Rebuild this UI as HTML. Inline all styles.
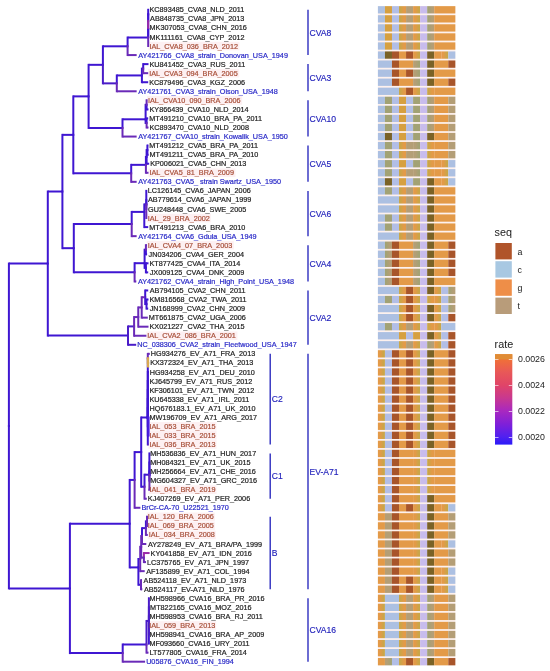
<!DOCTYPE html>
<html><head><meta charset="utf-8"><style>
html,body{margin:0;padding:0;background:#fff;}
svg{display:block;filter:blur(0.3px);}
text{font-family:"Liberation Sans",sans-serif;}
</style></head><body>
<svg width="550" height="671" viewBox="0 0 550 671">
<defs><linearGradient id="rg" x1="0" y1="1" x2="0" y2="0">
<stop offset="0" stop-color="#2a1af8"/>
<stop offset="0.086" stop-color="#5020f0"/>
<stop offset="0.229" stop-color="#8020d8"/>
<stop offset="0.371" stop-color="#a828c0"/>
<stop offset="0.514" stop-color="#c83890"/>
<stop offset="0.657" stop-color="#e04468"/>
<stop offset="0.8" stop-color="#e85858"/>
<stop offset="0.943" stop-color="#f07038"/>
<stop offset="1" stop-color="#e8862e"/>
</linearGradient><linearGradient id="gR" x1="0" y1="0" x2="1" y2="0"><stop offset="0.3" stop-color="#e39a48"/><stop offset="0.85" stop-color="#c8a648"/></linearGradient><linearGradient id="gL" x1="0" y1="0" x2="1" y2="0"><stop offset="0.15" stop-color="#c8a648"/><stop offset="0.7" stop-color="#e39a48"/></linearGradient><linearGradient id="tR" x1="0" y1="0" x2="1" y2="0"><stop offset="0.3" stop-color="#b49e76"/><stop offset="0.85" stop-color="#a2a274"/></linearGradient><linearGradient id="tL" x1="0" y1="0" x2="1" y2="0"><stop offset="0.15" stop-color="#a2a274"/><stop offset="0.7" stop-color="#b49e76"/></linearGradient></defs>
<rect width="550" height="671" fill="#fff"/>
<g><rect x="148.43" y="41.72" width="91.08" height="8.6" fill="#fdf0f2"/><rect x="148.13" y="68.88" width="91.08" height="8.6" fill="#fdf0f2"/><rect x="147.03" y="96.04" width="95.11" height="8.6" fill="#fdf0f2"/><rect x="148.43" y="168.47" width="87.05" height="8.6" fill="#fdf0f2"/><rect x="146.73" y="213.74" width="64.08" height="8.6" fill="#fdf0f2"/><rect x="146.73" y="240.90" width="87.05" height="8.6" fill="#fdf0f2"/><rect x="146.33" y="331.44" width="91.08" height="8.6" fill="#fdf0f2"/><rect x="148.43" y="421.98" width="68.11" height="8.6" fill="#fdf0f2"/><rect x="148.43" y="431.04" width="68.11" height="8.6" fill="#fdf0f2"/><rect x="148.43" y="440.09" width="68.11" height="8.6" fill="#fdf0f2"/><rect x="148.43" y="485.36" width="68.11" height="8.6" fill="#fdf0f2"/><rect x="146.73" y="512.52" width="68.11" height="8.6" fill="#fdf0f2"/><rect x="146.73" y="521.58" width="68.11" height="8.6" fill="#fdf0f2"/><rect x="147.73" y="530.63" width="68.11" height="8.6" fill="#fdf0f2"/><rect x="148.13" y="621.17" width="68.11" height="8.6" fill="#fdf0f2"/></g>
<rect x="377.9" y="6.15" width="77.44" height="659.19" fill="#fdf1ee"/>
<g><rect x="377.90" y="6.15" width="7.04" height="7.3" fill="#acc0e2"/><rect x="384.94" y="6.15" width="7.04" height="7.3" fill="#d6a040"/><rect x="391.98" y="6.15" width="7.04" height="7.3" fill="#b2bee6"/><rect x="399.02" y="6.15" width="7.04" height="7.3" fill="url(#gL)"/><rect x="406.06" y="6.15" width="7.04" height="7.3" fill="#b49e76"/><rect x="413.10" y="6.15" width="7.04" height="7.3" fill="url(#gR)"/><rect x="420.14" y="6.15" width="7.04" height="7.3" fill="#c8bcec"/><rect x="427.18" y="6.15" width="7.04" height="7.3" fill="url(#tL)"/><rect x="434.22" y="6.15" width="21.12" height="7.3" fill="#e39a48"/><rect x="377.90" y="15.20" width="7.04" height="7.3" fill="#acc0e2"/><rect x="384.94" y="15.20" width="7.04" height="7.3" fill="#d6a040"/><rect x="391.98" y="15.20" width="7.04" height="7.3" fill="#b2bee6"/><rect x="399.02" y="15.20" width="7.04" height="7.3" fill="url(#gL)"/><rect x="406.06" y="15.20" width="7.04" height="7.3" fill="#b49e76"/><rect x="413.10" y="15.20" width="7.04" height="7.3" fill="url(#gR)"/><rect x="420.14" y="15.20" width="7.04" height="7.3" fill="#c8bcec"/><rect x="427.18" y="15.20" width="7.04" height="7.3" fill="url(#tL)"/><rect x="434.22" y="15.20" width="21.12" height="7.3" fill="#e39a48"/><rect x="377.90" y="24.26" width="7.04" height="7.3" fill="#acc0e2"/><rect x="384.94" y="24.26" width="7.04" height="7.3" fill="#d6a040"/><rect x="391.98" y="24.26" width="7.04" height="7.3" fill="#b2bee6"/><rect x="399.02" y="24.26" width="7.04" height="7.3" fill="url(#gL)"/><rect x="406.06" y="24.26" width="7.04" height="7.3" fill="#b49e76"/><rect x="413.10" y="24.26" width="7.04" height="7.3" fill="url(#gR)"/><rect x="420.14" y="24.26" width="7.04" height="7.3" fill="#c8bcec"/><rect x="427.18" y="24.26" width="7.04" height="7.3" fill="url(#tL)"/><rect x="434.22" y="24.26" width="21.12" height="7.3" fill="#e39a48"/><rect x="377.90" y="33.31" width="7.04" height="7.3" fill="#acc0e2"/><rect x="384.94" y="33.31" width="7.04" height="7.3" fill="#d6a040"/><rect x="391.98" y="33.31" width="7.04" height="7.3" fill="#b2bee6"/><rect x="399.02" y="33.31" width="7.04" height="7.3" fill="url(#gL)"/><rect x="406.06" y="33.31" width="7.04" height="7.3" fill="#b49e76"/><rect x="413.10" y="33.31" width="7.04" height="7.3" fill="url(#gR)"/><rect x="420.14" y="33.31" width="7.04" height="7.3" fill="#c8bcec"/><rect x="427.18" y="33.31" width="7.04" height="7.3" fill="url(#tL)"/><rect x="434.22" y="33.31" width="21.12" height="7.3" fill="#e39a48"/><rect x="377.90" y="42.37" width="7.04" height="7.3" fill="#acc0e2"/><rect x="384.94" y="42.37" width="7.04" height="7.3" fill="#d6a040"/><rect x="391.98" y="42.37" width="7.04" height="7.3" fill="#b2bee6"/><rect x="399.02" y="42.37" width="7.04" height="7.3" fill="url(#gL)"/><rect x="406.06" y="42.37" width="7.04" height="7.3" fill="#b49e76"/><rect x="413.10" y="42.37" width="7.04" height="7.3" fill="url(#gR)"/><rect x="420.14" y="42.37" width="7.04" height="7.3" fill="#c8bcec"/><rect x="427.18" y="42.37" width="7.04" height="7.3" fill="url(#tL)"/><rect x="434.22" y="42.37" width="21.12" height="7.3" fill="#e39a48"/><rect x="377.90" y="51.42" width="7.04" height="7.3" fill="#acc0e2"/><rect x="384.94" y="51.42" width="7.04" height="7.3" fill="#7a6226"/><rect x="391.98" y="51.42" width="7.04" height="7.3" fill="#a8552a"/><rect x="399.02" y="51.42" width="7.04" height="7.3" fill="#e39a48"/><rect x="406.06" y="51.42" width="7.04" height="7.3" fill="#a8552a"/><rect x="413.10" y="51.42" width="7.04" height="7.3" fill="url(#gR)"/><rect x="420.14" y="51.42" width="7.04" height="7.3" fill="#c8bcec"/><rect x="427.18" y="51.42" width="7.04" height="7.3" fill="#7a6226"/><rect x="434.22" y="51.42" width="7.04" height="7.3" fill="#e39a48"/><rect x="441.26" y="51.42" width="7.04" height="7.3" fill="url(#gR)"/><rect x="448.30" y="51.42" width="7.04" height="7.3" fill="#acc0e2"/><rect x="377.90" y="60.47" width="14.08" height="7.3" fill="#acc0e2"/><rect x="391.98" y="60.47" width="7.04" height="7.3" fill="#a8552a"/><rect x="399.02" y="60.47" width="14.08" height="7.3" fill="#e39a48"/><rect x="413.10" y="60.47" width="7.04" height="7.3" fill="url(#tR)"/><rect x="420.14" y="60.47" width="7.04" height="7.3" fill="#c8bcec"/><rect x="427.18" y="60.47" width="7.04" height="7.3" fill="#7a6226"/><rect x="434.22" y="60.47" width="14.08" height="7.3" fill="#e39a48"/><rect x="448.30" y="60.47" width="7.04" height="7.3" fill="#a8552a"/><rect x="377.90" y="69.53" width="14.08" height="7.3" fill="#acc0e2"/><rect x="391.98" y="69.53" width="7.04" height="7.3" fill="#a8552a"/><rect x="399.02" y="69.53" width="7.04" height="7.3" fill="#e39a48"/><rect x="406.06" y="69.53" width="7.04" height="7.3" fill="#a8552a"/><rect x="413.10" y="69.53" width="7.04" height="7.3" fill="url(#tR)"/><rect x="420.14" y="69.53" width="7.04" height="7.3" fill="#c8bcec"/><rect x="427.18" y="69.53" width="7.04" height="7.3" fill="#7a6226"/><rect x="434.22" y="69.53" width="21.12" height="7.3" fill="#e39a48"/><rect x="377.90" y="78.58" width="14.08" height="7.3" fill="#acc0e2"/><rect x="391.98" y="78.58" width="7.04" height="7.3" fill="#a8552a"/><rect x="399.02" y="78.58" width="14.08" height="7.3" fill="#e39a48"/><rect x="413.10" y="78.58" width="7.04" height="7.3" fill="url(#tR)"/><rect x="420.14" y="78.58" width="7.04" height="7.3" fill="#c8bcec"/><rect x="427.18" y="78.58" width="7.04" height="7.3" fill="#7a6226"/><rect x="434.22" y="78.58" width="14.08" height="7.3" fill="#e39a48"/><rect x="448.30" y="78.58" width="7.04" height="7.3" fill="#a8552a"/><rect x="377.90" y="87.64" width="21.12" height="7.3" fill="#acc0e2"/><rect x="399.02" y="87.64" width="7.04" height="7.3" fill="url(#gL)"/><rect x="406.06" y="87.64" width="7.04" height="7.3" fill="#a8552a"/><rect x="413.10" y="87.64" width="7.04" height="7.3" fill="url(#gR)"/><rect x="420.14" y="87.64" width="7.04" height="7.3" fill="#c8bcec"/><rect x="427.18" y="87.64" width="7.04" height="7.3" fill="url(#gL)"/><rect x="434.22" y="87.64" width="21.12" height="7.3" fill="#e39a48"/><rect x="377.90" y="96.69" width="7.04" height="7.3" fill="#acc0e2"/><rect x="384.94" y="96.69" width="7.04" height="7.3" fill="#a2a274"/><rect x="391.98" y="96.69" width="7.04" height="7.3" fill="#b2bee6"/><rect x="399.02" y="96.69" width="7.04" height="7.3" fill="#d6a040"/><rect x="406.06" y="96.69" width="7.04" height="7.3" fill="#b2bee6"/><rect x="413.10" y="96.69" width="7.04" height="7.3" fill="#a2a274"/><rect x="420.14" y="96.69" width="7.04" height="7.3" fill="#c8bcec"/><rect x="427.18" y="96.69" width="7.04" height="7.3" fill="url(#tL)"/><rect x="434.22" y="96.69" width="14.08" height="7.3" fill="#e39a48"/><rect x="448.30" y="96.69" width="7.04" height="7.3" fill="#b49e76"/><rect x="377.90" y="105.74" width="7.04" height="7.3" fill="#acc0e2"/><rect x="384.94" y="105.74" width="7.04" height="7.3" fill="#a2a274"/><rect x="391.98" y="105.74" width="7.04" height="7.3" fill="#b2bee6"/><rect x="399.02" y="105.74" width="7.04" height="7.3" fill="#d6a040"/><rect x="406.06" y="105.74" width="7.04" height="7.3" fill="#b2bee6"/><rect x="413.10" y="105.74" width="7.04" height="7.3" fill="#a2a274"/><rect x="420.14" y="105.74" width="7.04" height="7.3" fill="#c8bcec"/><rect x="427.18" y="105.74" width="7.04" height="7.3" fill="url(#tL)"/><rect x="434.22" y="105.74" width="14.08" height="7.3" fill="#e39a48"/><rect x="448.30" y="105.74" width="7.04" height="7.3" fill="#b49e76"/><rect x="377.90" y="114.80" width="7.04" height="7.3" fill="#acc0e2"/><rect x="384.94" y="114.80" width="7.04" height="7.3" fill="#a2a274"/><rect x="391.98" y="114.80" width="7.04" height="7.3" fill="#b2bee6"/><rect x="399.02" y="114.80" width="7.04" height="7.3" fill="#d6a040"/><rect x="406.06" y="114.80" width="7.04" height="7.3" fill="#b2bee6"/><rect x="413.10" y="114.80" width="7.04" height="7.3" fill="#a2a274"/><rect x="420.14" y="114.80" width="7.04" height="7.3" fill="#c8bcec"/><rect x="427.18" y="114.80" width="7.04" height="7.3" fill="url(#tL)"/><rect x="434.22" y="114.80" width="14.08" height="7.3" fill="#e39a48"/><rect x="448.30" y="114.80" width="7.04" height="7.3" fill="#b49e76"/><rect x="377.90" y="123.85" width="7.04" height="7.3" fill="#acc0e2"/><rect x="384.94" y="123.85" width="7.04" height="7.3" fill="#a2a274"/><rect x="391.98" y="123.85" width="7.04" height="7.3" fill="#b2bee6"/><rect x="399.02" y="123.85" width="7.04" height="7.3" fill="#d6a040"/><rect x="406.06" y="123.85" width="7.04" height="7.3" fill="#b2bee6"/><rect x="413.10" y="123.85" width="7.04" height="7.3" fill="#a2a274"/><rect x="420.14" y="123.85" width="7.04" height="7.3" fill="#c8bcec"/><rect x="427.18" y="123.85" width="7.04" height="7.3" fill="url(#tL)"/><rect x="434.22" y="123.85" width="14.08" height="7.3" fill="#e39a48"/><rect x="448.30" y="123.85" width="7.04" height="7.3" fill="#b49e76"/><rect x="377.90" y="132.91" width="7.04" height="7.3" fill="#acc0e2"/><rect x="384.94" y="132.91" width="7.04" height="7.3" fill="#7a6226"/><rect x="391.98" y="132.91" width="7.04" height="7.3" fill="#b2bee6"/><rect x="399.02" y="132.91" width="7.04" height="7.3" fill="#d6a040"/><rect x="406.06" y="132.91" width="7.04" height="7.3" fill="#b2bee6"/><rect x="413.10" y="132.91" width="7.04" height="7.3" fill="#a2a274"/><rect x="420.14" y="132.91" width="7.04" height="7.3" fill="#c8bcec"/><rect x="427.18" y="132.91" width="7.04" height="7.3" fill="#7a6226"/><rect x="434.22" y="132.91" width="14.08" height="7.3" fill="#e39a48"/><rect x="448.30" y="132.91" width="7.04" height="7.3" fill="#b49e76"/><rect x="377.90" y="141.96" width="7.04" height="7.3" fill="#acc0e2"/><rect x="384.94" y="141.96" width="7.04" height="7.3" fill="#a2a274"/><rect x="391.98" y="141.96" width="7.04" height="7.3" fill="#b2bee6"/><rect x="399.02" y="141.96" width="7.04" height="7.3" fill="url(#gL)"/><rect x="406.06" y="141.96" width="7.04" height="7.3" fill="#b49e76"/><rect x="413.10" y="141.96" width="7.04" height="7.3" fill="url(#tR)"/><rect x="420.14" y="141.96" width="7.04" height="7.3" fill="#c8bcec"/><rect x="427.18" y="141.96" width="7.04" height="7.3" fill="url(#gL)"/><rect x="434.22" y="141.96" width="14.08" height="7.3" fill="#e39a48"/><rect x="448.30" y="141.96" width="7.04" height="7.3" fill="#b49e76"/><rect x="377.90" y="151.01" width="7.04" height="7.3" fill="#acc0e2"/><rect x="384.94" y="151.01" width="7.04" height="7.3" fill="#a2a274"/><rect x="391.98" y="151.01" width="7.04" height="7.3" fill="#b2bee6"/><rect x="399.02" y="151.01" width="7.04" height="7.3" fill="url(#gL)"/><rect x="406.06" y="151.01" width="7.04" height="7.3" fill="#b49e76"/><rect x="413.10" y="151.01" width="7.04" height="7.3" fill="url(#tR)"/><rect x="420.14" y="151.01" width="7.04" height="7.3" fill="#c8bcec"/><rect x="427.18" y="151.01" width="7.04" height="7.3" fill="url(#gL)"/><rect x="434.22" y="151.01" width="14.08" height="7.3" fill="#e39a48"/><rect x="448.30" y="151.01" width="7.04" height="7.3" fill="#b49e76"/><rect x="377.90" y="160.07" width="7.04" height="7.3" fill="#acc0e2"/><rect x="384.94" y="160.07" width="7.04" height="7.3" fill="#a2a274"/><rect x="391.98" y="160.07" width="7.04" height="7.3" fill="#b2bee6"/><rect x="399.02" y="160.07" width="7.04" height="7.3" fill="#d6a040"/><rect x="406.06" y="160.07" width="7.04" height="7.3" fill="#b2bee6"/><rect x="413.10" y="160.07" width="7.04" height="7.3" fill="#a2a274"/><rect x="420.14" y="160.07" width="7.04" height="7.3" fill="#c8bcec"/><rect x="427.18" y="160.07" width="7.04" height="7.3" fill="url(#gL)"/><rect x="434.22" y="160.07" width="7.04" height="7.3" fill="#e39a48"/><rect x="441.26" y="160.07" width="7.04" height="7.3" fill="url(#gR)"/><rect x="448.30" y="160.07" width="7.04" height="7.3" fill="#acc0e2"/><rect x="377.90" y="169.12" width="7.04" height="7.3" fill="#acc0e2"/><rect x="384.94" y="169.12" width="7.04" height="7.3" fill="#a2a274"/><rect x="391.98" y="169.12" width="7.04" height="7.3" fill="#b2bee6"/><rect x="399.02" y="169.12" width="7.04" height="7.3" fill="url(#gL)"/><rect x="406.06" y="169.12" width="7.04" height="7.3" fill="#b49e76"/><rect x="413.10" y="169.12" width="7.04" height="7.3" fill="url(#tR)"/><rect x="420.14" y="169.12" width="7.04" height="7.3" fill="#c8bcec"/><rect x="427.18" y="169.12" width="7.04" height="7.3" fill="url(#gL)"/><rect x="434.22" y="169.12" width="7.04" height="7.3" fill="#e39a48"/><rect x="441.26" y="169.12" width="7.04" height="7.3" fill="url(#gR)"/><rect x="448.30" y="169.12" width="7.04" height="7.3" fill="#acc0e2"/><rect x="377.90" y="178.18" width="7.04" height="7.3" fill="#acc0e2"/><rect x="384.94" y="178.18" width="7.04" height="7.3" fill="#7a6226"/><rect x="391.98" y="178.18" width="7.04" height="7.3" fill="#b2bee6"/><rect x="399.02" y="178.18" width="7.04" height="7.3" fill="#d6a040"/><rect x="406.06" y="178.18" width="7.04" height="7.3" fill="#b2bee6"/><rect x="413.10" y="178.18" width="7.04" height="7.3" fill="#a2a274"/><rect x="420.14" y="178.18" width="7.04" height="7.3" fill="#c8bcec"/><rect x="427.18" y="178.18" width="7.04" height="7.3" fill="#7a6226"/><rect x="434.22" y="178.18" width="7.04" height="7.3" fill="#e39a48"/><rect x="441.26" y="178.18" width="7.04" height="7.3" fill="url(#gR)"/><rect x="448.30" y="178.18" width="7.04" height="7.3" fill="#acc0e2"/><rect x="377.90" y="187.23" width="7.04" height="7.3" fill="#acc0e2"/><rect x="384.94" y="187.23" width="7.04" height="7.3" fill="#a2a274"/><rect x="391.98" y="187.23" width="7.04" height="7.3" fill="#b2bee6"/><rect x="399.02" y="187.23" width="7.04" height="7.3" fill="url(#gL)"/><rect x="406.06" y="187.23" width="7.04" height="7.3" fill="#b49e76"/><rect x="413.10" y="187.23" width="7.04" height="7.3" fill="url(#gR)"/><rect x="420.14" y="187.23" width="7.04" height="7.3" fill="#c8bcec"/><rect x="427.18" y="187.23" width="7.04" height="7.3" fill="#7a6226"/><rect x="434.22" y="187.23" width="21.12" height="7.3" fill="#e39a48"/><rect x="377.90" y="196.28" width="21.12" height="7.3" fill="#acc0e2"/><rect x="399.02" y="196.28" width="7.04" height="7.3" fill="url(#gL)"/><rect x="406.06" y="196.28" width="7.04" height="7.3" fill="#b49e76"/><rect x="413.10" y="196.28" width="7.04" height="7.3" fill="url(#gR)"/><rect x="420.14" y="196.28" width="7.04" height="7.3" fill="#c8bcec"/><rect x="427.18" y="196.28" width="7.04" height="7.3" fill="#7a6226"/><rect x="434.22" y="196.28" width="21.12" height="7.3" fill="#e39a48"/><rect x="377.90" y="205.34" width="21.12" height="7.3" fill="#acc0e2"/><rect x="399.02" y="205.34" width="7.04" height="7.3" fill="url(#gL)"/><rect x="406.06" y="205.34" width="7.04" height="7.3" fill="#b49e76"/><rect x="413.10" y="205.34" width="7.04" height="7.3" fill="url(#gR)"/><rect x="420.14" y="205.34" width="7.04" height="7.3" fill="#c8bcec"/><rect x="427.18" y="205.34" width="7.04" height="7.3" fill="#7a6226"/><rect x="434.22" y="205.34" width="21.12" height="7.3" fill="#e39a48"/><rect x="377.90" y="214.39" width="7.04" height="7.3" fill="#acc0e2"/><rect x="384.94" y="214.39" width="7.04" height="7.3" fill="#a2a274"/><rect x="391.98" y="214.39" width="7.04" height="7.3" fill="#b2bee6"/><rect x="399.02" y="214.39" width="7.04" height="7.3" fill="url(#gL)"/><rect x="406.06" y="214.39" width="7.04" height="7.3" fill="#b49e76"/><rect x="413.10" y="214.39" width="7.04" height="7.3" fill="url(#gR)"/><rect x="420.14" y="214.39" width="7.04" height="7.3" fill="#c8bcec"/><rect x="427.18" y="214.39" width="7.04" height="7.3" fill="#7a6226"/><rect x="434.22" y="214.39" width="21.12" height="7.3" fill="#e39a48"/><rect x="377.90" y="223.45" width="7.04" height="7.3" fill="#acc0e2"/><rect x="384.94" y="223.45" width="7.04" height="7.3" fill="#a2a274"/><rect x="391.98" y="223.45" width="7.04" height="7.3" fill="#b2bee6"/><rect x="399.02" y="223.45" width="7.04" height="7.3" fill="url(#gL)"/><rect x="406.06" y="223.45" width="7.04" height="7.3" fill="#b49e76"/><rect x="413.10" y="223.45" width="7.04" height="7.3" fill="url(#gR)"/><rect x="420.14" y="223.45" width="7.04" height="7.3" fill="#c8bcec"/><rect x="427.18" y="223.45" width="7.04" height="7.3" fill="#7a6226"/><rect x="434.22" y="223.45" width="21.12" height="7.3" fill="#e39a48"/><rect x="377.90" y="232.50" width="21.12" height="7.3" fill="#acc0e2"/><rect x="399.02" y="232.50" width="7.04" height="7.3" fill="url(#gL)"/><rect x="406.06" y="232.50" width="7.04" height="7.3" fill="#b49e76"/><rect x="413.10" y="232.50" width="7.04" height="7.3" fill="url(#gR)"/><rect x="420.14" y="232.50" width="7.04" height="7.3" fill="#c8bcec"/><rect x="427.18" y="232.50" width="7.04" height="7.3" fill="#7a6226"/><rect x="434.22" y="232.50" width="21.12" height="7.3" fill="#e39a48"/><rect x="377.90" y="241.55" width="7.04" height="7.3" fill="#acc0e2"/><rect x="384.94" y="241.55" width="7.04" height="7.3" fill="url(#tL)"/><rect x="391.98" y="241.55" width="7.04" height="7.3" fill="#a8552a"/><rect x="399.02" y="241.55" width="14.08" height="7.3" fill="#e39a48"/><rect x="413.10" y="241.55" width="7.04" height="7.3" fill="url(#tR)"/><rect x="420.14" y="241.55" width="7.04" height="7.3" fill="#c8bcec"/><rect x="427.18" y="241.55" width="7.04" height="7.3" fill="#7a6226"/><rect x="434.22" y="241.55" width="14.08" height="7.3" fill="#e39a48"/><rect x="448.30" y="241.55" width="7.04" height="7.3" fill="#a8552a"/><rect x="377.90" y="250.61" width="7.04" height="7.3" fill="#acc0e2"/><rect x="384.94" y="250.61" width="7.04" height="7.3" fill="url(#tL)"/><rect x="391.98" y="250.61" width="7.04" height="7.3" fill="#a8552a"/><rect x="399.02" y="250.61" width="14.08" height="7.3" fill="#e39a48"/><rect x="413.10" y="250.61" width="7.04" height="7.3" fill="url(#tR)"/><rect x="420.14" y="250.61" width="7.04" height="7.3" fill="#c8bcec"/><rect x="427.18" y="250.61" width="7.04" height="7.3" fill="#7a6226"/><rect x="434.22" y="250.61" width="14.08" height="7.3" fill="#e39a48"/><rect x="448.30" y="250.61" width="7.04" height="7.3" fill="#a8552a"/><rect x="377.90" y="259.66" width="7.04" height="7.3" fill="#acc0e2"/><rect x="384.94" y="259.66" width="7.04" height="7.3" fill="url(#tL)"/><rect x="391.98" y="259.66" width="7.04" height="7.3" fill="#a8552a"/><rect x="399.02" y="259.66" width="14.08" height="7.3" fill="#e39a48"/><rect x="413.10" y="259.66" width="7.04" height="7.3" fill="url(#tR)"/><rect x="420.14" y="259.66" width="7.04" height="7.3" fill="#c8bcec"/><rect x="427.18" y="259.66" width="7.04" height="7.3" fill="#7a6226"/><rect x="434.22" y="259.66" width="14.08" height="7.3" fill="#e39a48"/><rect x="448.30" y="259.66" width="7.04" height="7.3" fill="#a8552a"/><rect x="377.90" y="268.72" width="7.04" height="7.3" fill="#acc0e2"/><rect x="384.94" y="268.72" width="7.04" height="7.3" fill="url(#tL)"/><rect x="391.98" y="268.72" width="7.04" height="7.3" fill="#a8552a"/><rect x="399.02" y="268.72" width="14.08" height="7.3" fill="#e39a48"/><rect x="413.10" y="268.72" width="7.04" height="7.3" fill="url(#tR)"/><rect x="420.14" y="268.72" width="7.04" height="7.3" fill="#c8bcec"/><rect x="427.18" y="268.72" width="7.04" height="7.3" fill="#7a6226"/><rect x="434.22" y="268.72" width="14.08" height="7.3" fill="#e39a48"/><rect x="448.30" y="268.72" width="7.04" height="7.3" fill="#a8552a"/><rect x="377.90" y="277.77" width="7.04" height="7.3" fill="#acc0e2"/><rect x="384.94" y="277.77" width="7.04" height="7.3" fill="url(#tL)"/><rect x="391.98" y="277.77" width="7.04" height="7.3" fill="#a8552a"/><rect x="399.02" y="277.77" width="14.08" height="7.3" fill="#e39a48"/><rect x="413.10" y="277.77" width="7.04" height="7.3" fill="url(#tR)"/><rect x="420.14" y="277.77" width="7.04" height="7.3" fill="#c8bcec"/><rect x="427.18" y="277.77" width="7.04" height="7.3" fill="#7a6226"/><rect x="434.22" y="277.77" width="21.12" height="7.3" fill="#e39a48"/><rect x="377.90" y="286.82" width="21.12" height="7.3" fill="#acc0e2"/><rect x="399.02" y="286.82" width="7.04" height="7.3" fill="url(#gL)"/><rect x="406.06" y="286.82" width="7.04" height="7.3" fill="#a8552a"/><rect x="413.10" y="286.82" width="7.04" height="7.3" fill="url(#gR)"/><rect x="420.14" y="286.82" width="7.04" height="7.3" fill="#c8bcec"/><rect x="427.18" y="286.82" width="7.04" height="7.3" fill="#7a6226"/><rect x="434.22" y="286.82" width="7.04" height="7.3" fill="url(#gR)"/><rect x="441.26" y="286.82" width="7.04" height="7.3" fill="#b2bee6"/><rect x="448.30" y="286.82" width="7.04" height="7.3" fill="url(#tL)"/><rect x="377.90" y="295.88" width="7.04" height="7.3" fill="#acc0e2"/><rect x="384.94" y="295.88" width="7.04" height="7.3" fill="#a2a274"/><rect x="391.98" y="295.88" width="7.04" height="7.3" fill="#b2bee6"/><rect x="399.02" y="295.88" width="7.04" height="7.3" fill="url(#gL)"/><rect x="406.06" y="295.88" width="7.04" height="7.3" fill="#a8552a"/><rect x="413.10" y="295.88" width="7.04" height="7.3" fill="url(#gR)"/><rect x="420.14" y="295.88" width="7.04" height="7.3" fill="#c8bcec"/><rect x="427.18" y="295.88" width="7.04" height="7.3" fill="url(#gL)"/><rect x="434.22" y="295.88" width="7.04" height="7.3" fill="url(#gR)"/><rect x="441.26" y="295.88" width="7.04" height="7.3" fill="#b2bee6"/><rect x="448.30" y="295.88" width="7.04" height="7.3" fill="url(#tL)"/><rect x="377.90" y="304.93" width="21.12" height="7.3" fill="#acc0e2"/><rect x="399.02" y="304.93" width="7.04" height="7.3" fill="url(#gL)"/><rect x="406.06" y="304.93" width="7.04" height="7.3" fill="#a8552a"/><rect x="413.10" y="304.93" width="7.04" height="7.3" fill="url(#gR)"/><rect x="420.14" y="304.93" width="7.04" height="7.3" fill="#c8bcec"/><rect x="427.18" y="304.93" width="7.04" height="7.3" fill="#7a6226"/><rect x="434.22" y="304.93" width="7.04" height="7.3" fill="url(#gR)"/><rect x="441.26" y="304.93" width="7.04" height="7.3" fill="#b2bee6"/><rect x="448.30" y="304.93" width="7.04" height="7.3" fill="url(#tL)"/><rect x="377.90" y="313.99" width="21.12" height="7.3" fill="#acc0e2"/><rect x="399.02" y="313.99" width="7.04" height="7.3" fill="url(#gL)"/><rect x="406.06" y="313.99" width="7.04" height="7.3" fill="#a8552a"/><rect x="413.10" y="313.99" width="7.04" height="7.3" fill="url(#gR)"/><rect x="420.14" y="313.99" width="7.04" height="7.3" fill="#c8bcec"/><rect x="427.18" y="313.99" width="7.04" height="7.3" fill="#7a6226"/><rect x="434.22" y="313.99" width="7.04" height="7.3" fill="url(#gR)"/><rect x="441.26" y="313.99" width="7.04" height="7.3" fill="#b2bee6"/><rect x="448.30" y="313.99" width="7.04" height="7.3" fill="#a8552a"/><rect x="377.90" y="323.04" width="7.04" height="7.3" fill="#acc0e2"/><rect x="384.94" y="323.04" width="7.04" height="7.3" fill="#a2a274"/><rect x="391.98" y="323.04" width="7.04" height="7.3" fill="#b2bee6"/><rect x="399.02" y="323.04" width="7.04" height="7.3" fill="url(#gL)"/><rect x="406.06" y="323.04" width="7.04" height="7.3" fill="#b49e76"/><rect x="413.10" y="323.04" width="7.04" height="7.3" fill="url(#gR)"/><rect x="420.14" y="323.04" width="7.04" height="7.3" fill="#c8bcec"/><rect x="427.18" y="323.04" width="7.04" height="7.3" fill="url(#gL)"/><rect x="434.22" y="323.04" width="7.04" height="7.3" fill="url(#gR)"/><rect x="441.26" y="323.04" width="14.08" height="7.3" fill="#acc0e2"/><rect x="377.90" y="332.09" width="21.12" height="7.3" fill="#acc0e2"/><rect x="399.02" y="332.09" width="7.04" height="7.3" fill="#d6a040"/><rect x="406.06" y="332.09" width="7.04" height="7.3" fill="#b2bee6"/><rect x="413.10" y="332.09" width="7.04" height="7.3" fill="#d6a040"/><rect x="420.14" y="332.09" width="7.04" height="7.3" fill="#c8bcec"/><rect x="427.18" y="332.09" width="7.04" height="7.3" fill="#7a6226"/><rect x="434.22" y="332.09" width="7.04" height="7.3" fill="url(#gR)"/><rect x="441.26" y="332.09" width="7.04" height="7.3" fill="#b2bee6"/><rect x="448.30" y="332.09" width="7.04" height="7.3" fill="#a8552a"/><rect x="377.90" y="341.15" width="21.12" height="7.3" fill="#acc0e2"/><rect x="399.02" y="341.15" width="7.04" height="7.3" fill="url(#gL)"/><rect x="406.06" y="341.15" width="7.04" height="7.3" fill="#b49e76"/><rect x="413.10" y="341.15" width="7.04" height="7.3" fill="url(#gR)"/><rect x="420.14" y="341.15" width="7.04" height="7.3" fill="#c8bcec"/><rect x="427.18" y="341.15" width="7.04" height="7.3" fill="url(#tL)"/><rect x="434.22" y="341.15" width="7.04" height="7.3" fill="url(#gR)"/><rect x="441.26" y="341.15" width="7.04" height="7.3" fill="#b2bee6"/><rect x="448.30" y="341.15" width="7.04" height="7.3" fill="#a8552a"/><rect x="377.90" y="350.20" width="7.04" height="7.3" fill="url(#gR)"/><rect x="384.94" y="350.20" width="7.04" height="7.3" fill="#b2bee6"/><rect x="391.98" y="350.20" width="7.04" height="7.3" fill="#a8552a"/><rect x="399.02" y="350.20" width="7.04" height="7.3" fill="#e39a48"/><rect x="406.06" y="350.20" width="7.04" height="7.3" fill="#a8552a"/><rect x="413.10" y="350.20" width="7.04" height="7.3" fill="url(#gR)"/><rect x="420.14" y="350.20" width="7.04" height="7.3" fill="#c8bcec"/><rect x="427.18" y="350.20" width="7.04" height="7.3" fill="#7a6226"/><rect x="434.22" y="350.20" width="14.08" height="7.3" fill="#e39a48"/><rect x="448.30" y="350.20" width="7.04" height="7.3" fill="#a8552a"/><rect x="377.90" y="359.26" width="7.04" height="7.3" fill="url(#gR)"/><rect x="384.94" y="359.26" width="7.04" height="7.3" fill="#b2bee6"/><rect x="391.98" y="359.26" width="7.04" height="7.3" fill="#a8552a"/><rect x="399.02" y="359.26" width="7.04" height="7.3" fill="#e39a48"/><rect x="406.06" y="359.26" width="7.04" height="7.3" fill="#a8552a"/><rect x="413.10" y="359.26" width="7.04" height="7.3" fill="url(#gR)"/><rect x="420.14" y="359.26" width="7.04" height="7.3" fill="#c8bcec"/><rect x="427.18" y="359.26" width="7.04" height="7.3" fill="#7a6226"/><rect x="434.22" y="359.26" width="14.08" height="7.3" fill="#e39a48"/><rect x="448.30" y="359.26" width="7.04" height="7.3" fill="#a8552a"/><rect x="377.90" y="368.31" width="7.04" height="7.3" fill="url(#gR)"/><rect x="384.94" y="368.31" width="7.04" height="7.3" fill="#b2bee6"/><rect x="391.98" y="368.31" width="7.04" height="7.3" fill="#a8552a"/><rect x="399.02" y="368.31" width="7.04" height="7.3" fill="#e39a48"/><rect x="406.06" y="368.31" width="7.04" height="7.3" fill="#a8552a"/><rect x="413.10" y="368.31" width="7.04" height="7.3" fill="url(#gR)"/><rect x="420.14" y="368.31" width="7.04" height="7.3" fill="#c8bcec"/><rect x="427.18" y="368.31" width="7.04" height="7.3" fill="#7a6226"/><rect x="434.22" y="368.31" width="14.08" height="7.3" fill="#e39a48"/><rect x="448.30" y="368.31" width="7.04" height="7.3" fill="#a8552a"/><rect x="377.90" y="377.36" width="7.04" height="7.3" fill="url(#gR)"/><rect x="384.94" y="377.36" width="7.04" height="7.3" fill="#b2bee6"/><rect x="391.98" y="377.36" width="7.04" height="7.3" fill="#a8552a"/><rect x="399.02" y="377.36" width="7.04" height="7.3" fill="#e39a48"/><rect x="406.06" y="377.36" width="7.04" height="7.3" fill="#a8552a"/><rect x="413.10" y="377.36" width="7.04" height="7.3" fill="url(#gR)"/><rect x="420.14" y="377.36" width="7.04" height="7.3" fill="#c8bcec"/><rect x="427.18" y="377.36" width="7.04" height="7.3" fill="#7a6226"/><rect x="434.22" y="377.36" width="14.08" height="7.3" fill="#e39a48"/><rect x="448.30" y="377.36" width="7.04" height="7.3" fill="#a8552a"/><rect x="377.90" y="386.42" width="7.04" height="7.3" fill="url(#gR)"/><rect x="384.94" y="386.42" width="7.04" height="7.3" fill="#b2bee6"/><rect x="391.98" y="386.42" width="7.04" height="7.3" fill="#a8552a"/><rect x="399.02" y="386.42" width="7.04" height="7.3" fill="#e39a48"/><rect x="406.06" y="386.42" width="7.04" height="7.3" fill="#a8552a"/><rect x="413.10" y="386.42" width="7.04" height="7.3" fill="url(#gR)"/><rect x="420.14" y="386.42" width="7.04" height="7.3" fill="#c8bcec"/><rect x="427.18" y="386.42" width="7.04" height="7.3" fill="#7a6226"/><rect x="434.22" y="386.42" width="14.08" height="7.3" fill="#e39a48"/><rect x="448.30" y="386.42" width="7.04" height="7.3" fill="#a8552a"/><rect x="377.90" y="395.47" width="7.04" height="7.3" fill="url(#gR)"/><rect x="384.94" y="395.47" width="7.04" height="7.3" fill="#b2bee6"/><rect x="391.98" y="395.47" width="7.04" height="7.3" fill="#a8552a"/><rect x="399.02" y="395.47" width="7.04" height="7.3" fill="#e39a48"/><rect x="406.06" y="395.47" width="7.04" height="7.3" fill="#a8552a"/><rect x="413.10" y="395.47" width="7.04" height="7.3" fill="url(#gR)"/><rect x="420.14" y="395.47" width="7.04" height="7.3" fill="#c8bcec"/><rect x="427.18" y="395.47" width="7.04" height="7.3" fill="#7a6226"/><rect x="434.22" y="395.47" width="14.08" height="7.3" fill="#e39a48"/><rect x="448.30" y="395.47" width="7.04" height="7.3" fill="#a8552a"/><rect x="377.90" y="404.53" width="7.04" height="7.3" fill="url(#gR)"/><rect x="384.94" y="404.53" width="7.04" height="7.3" fill="#b2bee6"/><rect x="391.98" y="404.53" width="7.04" height="7.3" fill="#a8552a"/><rect x="399.02" y="404.53" width="7.04" height="7.3" fill="#e39a48"/><rect x="406.06" y="404.53" width="7.04" height="7.3" fill="#a8552a"/><rect x="413.10" y="404.53" width="7.04" height="7.3" fill="url(#gR)"/><rect x="420.14" y="404.53" width="7.04" height="7.3" fill="#c8bcec"/><rect x="427.18" y="404.53" width="7.04" height="7.3" fill="#7a6226"/><rect x="434.22" y="404.53" width="14.08" height="7.3" fill="#e39a48"/><rect x="448.30" y="404.53" width="7.04" height="7.3" fill="#a8552a"/><rect x="377.90" y="413.58" width="7.04" height="7.3" fill="url(#gR)"/><rect x="384.94" y="413.58" width="7.04" height="7.3" fill="#b2bee6"/><rect x="391.98" y="413.58" width="7.04" height="7.3" fill="#a8552a"/><rect x="399.02" y="413.58" width="7.04" height="7.3" fill="#e39a48"/><rect x="406.06" y="413.58" width="7.04" height="7.3" fill="#a8552a"/><rect x="413.10" y="413.58" width="7.04" height="7.3" fill="url(#gR)"/><rect x="420.14" y="413.58" width="7.04" height="7.3" fill="#c8bcec"/><rect x="427.18" y="413.58" width="7.04" height="7.3" fill="#7a6226"/><rect x="434.22" y="413.58" width="14.08" height="7.3" fill="#e39a48"/><rect x="448.30" y="413.58" width="7.04" height="7.3" fill="#a8552a"/><rect x="377.90" y="422.63" width="7.04" height="7.3" fill="url(#gR)"/><rect x="384.94" y="422.63" width="7.04" height="7.3" fill="#b2bee6"/><rect x="391.98" y="422.63" width="7.04" height="7.3" fill="#a8552a"/><rect x="399.02" y="422.63" width="7.04" height="7.3" fill="#e39a48"/><rect x="406.06" y="422.63" width="7.04" height="7.3" fill="#a8552a"/><rect x="413.10" y="422.63" width="7.04" height="7.3" fill="url(#gR)"/><rect x="420.14" y="422.63" width="7.04" height="7.3" fill="#c8bcec"/><rect x="427.18" y="422.63" width="7.04" height="7.3" fill="#7a6226"/><rect x="434.22" y="422.63" width="14.08" height="7.3" fill="#e39a48"/><rect x="448.30" y="422.63" width="7.04" height="7.3" fill="#a8552a"/><rect x="377.90" y="431.69" width="7.04" height="7.3" fill="url(#gR)"/><rect x="384.94" y="431.69" width="7.04" height="7.3" fill="#b2bee6"/><rect x="391.98" y="431.69" width="7.04" height="7.3" fill="#a8552a"/><rect x="399.02" y="431.69" width="7.04" height="7.3" fill="#e39a48"/><rect x="406.06" y="431.69" width="7.04" height="7.3" fill="#a8552a"/><rect x="413.10" y="431.69" width="7.04" height="7.3" fill="url(#gR)"/><rect x="420.14" y="431.69" width="7.04" height="7.3" fill="#c8bcec"/><rect x="427.18" y="431.69" width="7.04" height="7.3" fill="#7a6226"/><rect x="434.22" y="431.69" width="14.08" height="7.3" fill="#e39a48"/><rect x="448.30" y="431.69" width="7.04" height="7.3" fill="#a8552a"/><rect x="377.90" y="440.74" width="7.04" height="7.3" fill="url(#gR)"/><rect x="384.94" y="440.74" width="7.04" height="7.3" fill="#b2bee6"/><rect x="391.98" y="440.74" width="7.04" height="7.3" fill="#a8552a"/><rect x="399.02" y="440.74" width="7.04" height="7.3" fill="#e39a48"/><rect x="406.06" y="440.74" width="7.04" height="7.3" fill="#a8552a"/><rect x="413.10" y="440.74" width="7.04" height="7.3" fill="url(#gR)"/><rect x="420.14" y="440.74" width="7.04" height="7.3" fill="#c8bcec"/><rect x="427.18" y="440.74" width="7.04" height="7.3" fill="#7a6226"/><rect x="434.22" y="440.74" width="14.08" height="7.3" fill="#e39a48"/><rect x="448.30" y="440.74" width="7.04" height="7.3" fill="#a8552a"/><rect x="377.90" y="449.80" width="7.04" height="7.3" fill="url(#gR)"/><rect x="384.94" y="449.80" width="7.04" height="7.3" fill="#b2bee6"/><rect x="391.98" y="449.80" width="7.04" height="7.3" fill="#a8552a"/><rect x="399.02" y="449.80" width="14.08" height="7.3" fill="#e39a48"/><rect x="413.10" y="449.80" width="7.04" height="7.3" fill="url(#gR)"/><rect x="420.14" y="449.80" width="7.04" height="7.3" fill="#c8bcec"/><rect x="427.18" y="449.80" width="7.04" height="7.3" fill="url(#gL)"/><rect x="434.22" y="449.80" width="21.12" height="7.3" fill="#e39a48"/><rect x="377.90" y="458.85" width="7.04" height="7.3" fill="url(#gR)"/><rect x="384.94" y="458.85" width="7.04" height="7.3" fill="#b2bee6"/><rect x="391.98" y="458.85" width="7.04" height="7.3" fill="#a8552a"/><rect x="399.02" y="458.85" width="14.08" height="7.3" fill="#e39a48"/><rect x="413.10" y="458.85" width="7.04" height="7.3" fill="url(#gR)"/><rect x="420.14" y="458.85" width="7.04" height="7.3" fill="#c8bcec"/><rect x="427.18" y="458.85" width="7.04" height="7.3" fill="url(#gL)"/><rect x="434.22" y="458.85" width="21.12" height="7.3" fill="#e39a48"/><rect x="377.90" y="467.90" width="7.04" height="7.3" fill="url(#gR)"/><rect x="384.94" y="467.90" width="7.04" height="7.3" fill="#b2bee6"/><rect x="391.98" y="467.90" width="7.04" height="7.3" fill="#a8552a"/><rect x="399.02" y="467.90" width="14.08" height="7.3" fill="#e39a48"/><rect x="413.10" y="467.90" width="7.04" height="7.3" fill="url(#gR)"/><rect x="420.14" y="467.90" width="7.04" height="7.3" fill="#c8bcec"/><rect x="427.18" y="467.90" width="7.04" height="7.3" fill="url(#gL)"/><rect x="434.22" y="467.90" width="21.12" height="7.3" fill="#e39a48"/><rect x="377.90" y="476.96" width="7.04" height="7.3" fill="url(#gR)"/><rect x="384.94" y="476.96" width="7.04" height="7.3" fill="#b2bee6"/><rect x="391.98" y="476.96" width="7.04" height="7.3" fill="#a8552a"/><rect x="399.02" y="476.96" width="14.08" height="7.3" fill="#e39a48"/><rect x="413.10" y="476.96" width="7.04" height="7.3" fill="url(#gR)"/><rect x="420.14" y="476.96" width="7.04" height="7.3" fill="#c8bcec"/><rect x="427.18" y="476.96" width="7.04" height="7.3" fill="url(#gL)"/><rect x="434.22" y="476.96" width="21.12" height="7.3" fill="#e39a48"/><rect x="377.90" y="486.01" width="7.04" height="7.3" fill="url(#gR)"/><rect x="384.94" y="486.01" width="7.04" height="7.3" fill="#b2bee6"/><rect x="391.98" y="486.01" width="7.04" height="7.3" fill="#a8552a"/><rect x="399.02" y="486.01" width="14.08" height="7.3" fill="#e39a48"/><rect x="413.10" y="486.01" width="7.04" height="7.3" fill="url(#gR)"/><rect x="420.14" y="486.01" width="7.04" height="7.3" fill="#c8bcec"/><rect x="427.18" y="486.01" width="7.04" height="7.3" fill="url(#gL)"/><rect x="434.22" y="486.01" width="21.12" height="7.3" fill="#e39a48"/><rect x="377.90" y="495.07" width="7.04" height="7.3" fill="url(#gR)"/><rect x="384.94" y="495.07" width="7.04" height="7.3" fill="#b2bee6"/><rect x="391.98" y="495.07" width="7.04" height="7.3" fill="#a8552a"/><rect x="399.02" y="495.07" width="14.08" height="7.3" fill="#e39a48"/><rect x="413.10" y="495.07" width="7.04" height="7.3" fill="url(#gR)"/><rect x="420.14" y="495.07" width="7.04" height="7.3" fill="#c8bcec"/><rect x="427.18" y="495.07" width="7.04" height="7.3" fill="#7a6226"/><rect x="434.22" y="495.07" width="21.12" height="7.3" fill="#e39a48"/><rect x="377.90" y="504.12" width="7.04" height="7.3" fill="url(#gR)"/><rect x="384.94" y="504.12" width="7.04" height="7.3" fill="#b2bee6"/><rect x="391.98" y="504.12" width="7.04" height="7.3" fill="#a8552a"/><rect x="399.02" y="504.12" width="7.04" height="7.3" fill="#e39a48"/><rect x="406.06" y="504.12" width="7.04" height="7.3" fill="#a8552a"/><rect x="413.10" y="504.12" width="7.04" height="7.3" fill="url(#gR)"/><rect x="420.14" y="504.12" width="7.04" height="7.3" fill="#c8bcec"/><rect x="427.18" y="504.12" width="7.04" height="7.3" fill="#7a6226"/><rect x="434.22" y="504.12" width="7.04" height="7.3" fill="#e39a48"/><rect x="441.26" y="504.12" width="7.04" height="7.3" fill="url(#gR)"/><rect x="448.30" y="504.12" width="7.04" height="7.3" fill="#acc0e2"/><rect x="377.90" y="513.17" width="7.04" height="7.3" fill="#e39a48"/><rect x="384.94" y="513.17" width="7.04" height="7.3" fill="#b49e76"/><rect x="391.98" y="513.17" width="7.04" height="7.3" fill="#a8552a"/><rect x="399.02" y="513.17" width="14.08" height="7.3" fill="#e39a48"/><rect x="413.10" y="513.17" width="7.04" height="7.3" fill="url(#gR)"/><rect x="420.14" y="513.17" width="7.04" height="7.3" fill="#c8bcec"/><rect x="427.18" y="513.17" width="7.04" height="7.3" fill="#7a6226"/><rect x="434.22" y="513.17" width="14.08" height="7.3" fill="#e39a48"/><rect x="448.30" y="513.17" width="7.04" height="7.3" fill="#b49e76"/><rect x="377.90" y="522.23" width="7.04" height="7.3" fill="#e39a48"/><rect x="384.94" y="522.23" width="7.04" height="7.3" fill="#b49e76"/><rect x="391.98" y="522.23" width="7.04" height="7.3" fill="#a8552a"/><rect x="399.02" y="522.23" width="14.08" height="7.3" fill="#e39a48"/><rect x="413.10" y="522.23" width="7.04" height="7.3" fill="url(#gR)"/><rect x="420.14" y="522.23" width="7.04" height="7.3" fill="#c8bcec"/><rect x="427.18" y="522.23" width="7.04" height="7.3" fill="#7a6226"/><rect x="434.22" y="522.23" width="14.08" height="7.3" fill="#e39a48"/><rect x="448.30" y="522.23" width="7.04" height="7.3" fill="#b49e76"/><rect x="377.90" y="531.28" width="7.04" height="7.3" fill="#e39a48"/><rect x="384.94" y="531.28" width="7.04" height="7.3" fill="#b49e76"/><rect x="391.98" y="531.28" width="7.04" height="7.3" fill="#a8552a"/><rect x="399.02" y="531.28" width="14.08" height="7.3" fill="#e39a48"/><rect x="413.10" y="531.28" width="7.04" height="7.3" fill="url(#gR)"/><rect x="420.14" y="531.28" width="7.04" height="7.3" fill="#c8bcec"/><rect x="427.18" y="531.28" width="7.04" height="7.3" fill="#7a6226"/><rect x="434.22" y="531.28" width="14.08" height="7.3" fill="#e39a48"/><rect x="448.30" y="531.28" width="7.04" height="7.3" fill="#b49e76"/><rect x="377.90" y="540.34" width="7.04" height="7.3" fill="#e39a48"/><rect x="384.94" y="540.34" width="7.04" height="7.3" fill="#b49e76"/><rect x="391.98" y="540.34" width="7.04" height="7.3" fill="#a8552a"/><rect x="399.02" y="540.34" width="14.08" height="7.3" fill="#e39a48"/><rect x="413.10" y="540.34" width="7.04" height="7.3" fill="url(#gR)"/><rect x="420.14" y="540.34" width="7.04" height="7.3" fill="#c8bcec"/><rect x="427.18" y="540.34" width="7.04" height="7.3" fill="#7a6226"/><rect x="434.22" y="540.34" width="7.04" height="7.3" fill="#e39a48"/><rect x="441.26" y="540.34" width="7.04" height="7.3" fill="url(#gR)"/><rect x="448.30" y="540.34" width="7.04" height="7.3" fill="#acc0e2"/><rect x="377.90" y="549.39" width="7.04" height="7.3" fill="#e39a48"/><rect x="384.94" y="549.39" width="7.04" height="7.3" fill="#b49e76"/><rect x="391.98" y="549.39" width="7.04" height="7.3" fill="#a8552a"/><rect x="399.02" y="549.39" width="14.08" height="7.3" fill="#e39a48"/><rect x="413.10" y="549.39" width="7.04" height="7.3" fill="url(#gR)"/><rect x="420.14" y="549.39" width="7.04" height="7.3" fill="#c8bcec"/><rect x="427.18" y="549.39" width="7.04" height="7.3" fill="#7a6226"/><rect x="434.22" y="549.39" width="14.08" height="7.3" fill="#e39a48"/><rect x="448.30" y="549.39" width="7.04" height="7.3" fill="#b49e76"/><rect x="377.90" y="558.44" width="7.04" height="7.3" fill="#e39a48"/><rect x="384.94" y="558.44" width="7.04" height="7.3" fill="#b49e76"/><rect x="391.98" y="558.44" width="7.04" height="7.3" fill="#a8552a"/><rect x="399.02" y="558.44" width="14.08" height="7.3" fill="#e39a48"/><rect x="413.10" y="558.44" width="7.04" height="7.3" fill="url(#gR)"/><rect x="420.14" y="558.44" width="7.04" height="7.3" fill="#c8bcec"/><rect x="427.18" y="558.44" width="7.04" height="7.3" fill="#7a6226"/><rect x="434.22" y="558.44" width="14.08" height="7.3" fill="#e39a48"/><rect x="448.30" y="558.44" width="7.04" height="7.3" fill="#b49e76"/><rect x="377.90" y="567.50" width="7.04" height="7.3" fill="#e39a48"/><rect x="384.94" y="567.50" width="7.04" height="7.3" fill="#b49e76"/><rect x="391.98" y="567.50" width="7.04" height="7.3" fill="#a8552a"/><rect x="399.02" y="567.50" width="14.08" height="7.3" fill="#e39a48"/><rect x="413.10" y="567.50" width="7.04" height="7.3" fill="url(#gR)"/><rect x="420.14" y="567.50" width="7.04" height="7.3" fill="#c8bcec"/><rect x="427.18" y="567.50" width="7.04" height="7.3" fill="#7a6226"/><rect x="434.22" y="567.50" width="7.04" height="7.3" fill="#e39a48"/><rect x="441.26" y="567.50" width="7.04" height="7.3" fill="url(#gR)"/><rect x="448.30" y="567.50" width="7.04" height="7.3" fill="#acc0e2"/><rect x="377.90" y="576.55" width="7.04" height="7.3" fill="#e39a48"/><rect x="384.94" y="576.55" width="7.04" height="7.3" fill="#b49e76"/><rect x="391.98" y="576.55" width="7.04" height="7.3" fill="#a8552a"/><rect x="399.02" y="576.55" width="7.04" height="7.3" fill="#e39a48"/><rect x="406.06" y="576.55" width="7.04" height="7.3" fill="#a8552a"/><rect x="413.10" y="576.55" width="7.04" height="7.3" fill="url(#gR)"/><rect x="420.14" y="576.55" width="7.04" height="7.3" fill="#c8bcec"/><rect x="427.18" y="576.55" width="7.04" height="7.3" fill="#7a6226"/><rect x="434.22" y="576.55" width="7.04" height="7.3" fill="#e39a48"/><rect x="441.26" y="576.55" width="7.04" height="7.3" fill="url(#gR)"/><rect x="448.30" y="576.55" width="7.04" height="7.3" fill="#acc0e2"/><rect x="377.90" y="585.61" width="7.04" height="7.3" fill="#e39a48"/><rect x="384.94" y="585.61" width="7.04" height="7.3" fill="#b49e76"/><rect x="391.98" y="585.61" width="7.04" height="7.3" fill="#a8552a"/><rect x="399.02" y="585.61" width="7.04" height="7.3" fill="#e39a48"/><rect x="406.06" y="585.61" width="7.04" height="7.3" fill="#a8552a"/><rect x="413.10" y="585.61" width="7.04" height="7.3" fill="url(#gR)"/><rect x="420.14" y="585.61" width="7.04" height="7.3" fill="#c8bcec"/><rect x="427.18" y="585.61" width="7.04" height="7.3" fill="#7a6226"/><rect x="434.22" y="585.61" width="7.04" height="7.3" fill="#e39a48"/><rect x="441.26" y="585.61" width="7.04" height="7.3" fill="url(#gR)"/><rect x="448.30" y="585.61" width="7.04" height="7.3" fill="#acc0e2"/><rect x="377.90" y="594.66" width="7.04" height="7.3" fill="url(#gR)"/><rect x="384.94" y="594.66" width="14.08" height="7.3" fill="#acc0e2"/><rect x="399.02" y="594.66" width="7.04" height="7.3" fill="url(#gL)"/><rect x="406.06" y="594.66" width="7.04" height="7.3" fill="#b49e76"/><rect x="413.10" y="594.66" width="7.04" height="7.3" fill="url(#gR)"/><rect x="420.14" y="594.66" width="7.04" height="7.3" fill="#c8bcec"/><rect x="427.18" y="594.66" width="7.04" height="7.3" fill="url(#tL)"/><rect x="434.22" y="594.66" width="14.08" height="7.3" fill="#e39a48"/><rect x="448.30" y="594.66" width="7.04" height="7.3" fill="#b49e76"/><rect x="377.90" y="603.71" width="7.04" height="7.3" fill="url(#gR)"/><rect x="384.94" y="603.71" width="14.08" height="7.3" fill="#acc0e2"/><rect x="399.02" y="603.71" width="7.04" height="7.3" fill="url(#gL)"/><rect x="406.06" y="603.71" width="7.04" height="7.3" fill="#b49e76"/><rect x="413.10" y="603.71" width="7.04" height="7.3" fill="url(#gR)"/><rect x="420.14" y="603.71" width="7.04" height="7.3" fill="#c8bcec"/><rect x="427.18" y="603.71" width="7.04" height="7.3" fill="url(#tL)"/><rect x="434.22" y="603.71" width="14.08" height="7.3" fill="#e39a48"/><rect x="448.30" y="603.71" width="7.04" height="7.3" fill="#b49e76"/><rect x="377.90" y="612.77" width="7.04" height="7.3" fill="url(#gR)"/><rect x="384.94" y="612.77" width="14.08" height="7.3" fill="#acc0e2"/><rect x="399.02" y="612.77" width="7.04" height="7.3" fill="url(#gL)"/><rect x="406.06" y="612.77" width="7.04" height="7.3" fill="#b49e76"/><rect x="413.10" y="612.77" width="7.04" height="7.3" fill="url(#gR)"/><rect x="420.14" y="612.77" width="7.04" height="7.3" fill="#c8bcec"/><rect x="427.18" y="612.77" width="7.04" height="7.3" fill="url(#tL)"/><rect x="434.22" y="612.77" width="14.08" height="7.3" fill="#e39a48"/><rect x="448.30" y="612.77" width="7.04" height="7.3" fill="#b49e76"/><rect x="377.90" y="621.82" width="7.04" height="7.3" fill="url(#gR)"/><rect x="384.94" y="621.82" width="14.08" height="7.3" fill="#acc0e2"/><rect x="399.02" y="621.82" width="7.04" height="7.3" fill="url(#gL)"/><rect x="406.06" y="621.82" width="7.04" height="7.3" fill="#b49e76"/><rect x="413.10" y="621.82" width="7.04" height="7.3" fill="url(#gR)"/><rect x="420.14" y="621.82" width="7.04" height="7.3" fill="#c8bcec"/><rect x="427.18" y="621.82" width="7.04" height="7.3" fill="url(#tL)"/><rect x="434.22" y="621.82" width="14.08" height="7.3" fill="#e39a48"/><rect x="448.30" y="621.82" width="7.04" height="7.3" fill="#b49e76"/><rect x="377.90" y="630.88" width="7.04" height="7.3" fill="url(#gR)"/><rect x="384.94" y="630.88" width="14.08" height="7.3" fill="#acc0e2"/><rect x="399.02" y="630.88" width="7.04" height="7.3" fill="url(#gL)"/><rect x="406.06" y="630.88" width="7.04" height="7.3" fill="#b49e76"/><rect x="413.10" y="630.88" width="7.04" height="7.3" fill="url(#gR)"/><rect x="420.14" y="630.88" width="7.04" height="7.3" fill="#c8bcec"/><rect x="427.18" y="630.88" width="7.04" height="7.3" fill="url(#tL)"/><rect x="434.22" y="630.88" width="14.08" height="7.3" fill="#e39a48"/><rect x="448.30" y="630.88" width="7.04" height="7.3" fill="#b49e76"/><rect x="377.90" y="639.93" width="7.04" height="7.3" fill="url(#gR)"/><rect x="384.94" y="639.93" width="14.08" height="7.3" fill="#acc0e2"/><rect x="399.02" y="639.93" width="7.04" height="7.3" fill="url(#gL)"/><rect x="406.06" y="639.93" width="7.04" height="7.3" fill="#b49e76"/><rect x="413.10" y="639.93" width="7.04" height="7.3" fill="url(#gR)"/><rect x="420.14" y="639.93" width="7.04" height="7.3" fill="#c8bcec"/><rect x="427.18" y="639.93" width="7.04" height="7.3" fill="url(#tL)"/><rect x="434.22" y="639.93" width="14.08" height="7.3" fill="#e39a48"/><rect x="448.30" y="639.93" width="7.04" height="7.3" fill="#b49e76"/><rect x="377.90" y="648.98" width="7.04" height="7.3" fill="url(#gR)"/><rect x="384.94" y="648.98" width="14.08" height="7.3" fill="#acc0e2"/><rect x="399.02" y="648.98" width="7.04" height="7.3" fill="url(#gL)"/><rect x="406.06" y="648.98" width="7.04" height="7.3" fill="#b49e76"/><rect x="413.10" y="648.98" width="7.04" height="7.3" fill="url(#gR)"/><rect x="420.14" y="648.98" width="7.04" height="7.3" fill="#c8bcec"/><rect x="427.18" y="648.98" width="7.04" height="7.3" fill="url(#tL)"/><rect x="434.22" y="648.98" width="14.08" height="7.3" fill="#e39a48"/><rect x="448.30" y="648.98" width="7.04" height="7.3" fill="#b49e76"/><rect x="377.90" y="658.04" width="7.04" height="7.3" fill="#e39a48"/><rect x="384.94" y="658.04" width="7.04" height="7.3" fill="url(#tR)"/><rect x="391.98" y="658.04" width="7.04" height="7.3" fill="#b2bee6"/><rect x="399.02" y="658.04" width="7.04" height="7.3" fill="url(#gL)"/><rect x="406.06" y="658.04" width="7.04" height="7.3" fill="#a8552a"/><rect x="413.10" y="658.04" width="7.04" height="7.3" fill="url(#gR)"/><rect x="420.14" y="658.04" width="7.04" height="7.3" fill="#c8bcec"/><rect x="427.18" y="658.04" width="7.04" height="7.3" fill="#7a6226"/><rect x="434.22" y="658.04" width="14.08" height="7.3" fill="#e39a48"/><rect x="448.30" y="658.04" width="7.04" height="7.3" fill="#a8552a"/></g>
<g><line x1="8.90" y1="262.56" x2="8.90" y2="426.97" stroke="#3f16d2" stroke-width="2.0" stroke-linecap="butt"/><line x1="8.90" y1="263.56" x2="47.80" y2="263.56" stroke="#3f16d2" stroke-width="2.0" stroke-linecap="butt"/><line x1="47.80" y1="190.51" x2="47.80" y2="264.56" stroke="#3f16d2" stroke-width="2.0" stroke-linecap="butt"/><line x1="47.80" y1="191.51" x2="62.40" y2="191.51" stroke="#3f16d2" stroke-width="2.0" stroke-linecap="butt"/><line x1="62.40" y1="133.86" x2="62.40" y2="192.51" stroke="#3f16d2" stroke-width="2.0" stroke-linecap="butt"/><line x1="62.40" y1="134.86" x2="73.30" y2="134.86" stroke="#3f16d2" stroke-width="2.0" stroke-linecap="butt"/><line x1="73.30" y1="95.38" x2="73.30" y2="135.86" stroke="#3f16d2" stroke-width="2.0" stroke-linecap="butt"/><line x1="73.30" y1="96.38" x2="88.60" y2="96.38" stroke="#3f16d2" stroke-width="2.0" stroke-linecap="butt"/><line x1="88.60" y1="63.83" x2="88.60" y2="97.38" stroke="#3f16d2" stroke-width="2.0" stroke-linecap="butt"/><line x1="88.60" y1="64.83" x2="102.90" y2="64.83" stroke="#3f16d2" stroke-width="2.0" stroke-linecap="butt"/><line x1="102.90" y1="45.30" x2="102.90" y2="65.83" stroke="#3f16d2" stroke-width="2.0" stroke-linecap="butt"/><line x1="102.90" y1="46.30" x2="127.60" y2="46.30" stroke="#3f16d2" stroke-width="2.0" stroke-linecap="butt"/><line x1="127.60" y1="36.53" x2="127.60" y2="47.30" stroke="#3f16d2" stroke-width="2.0" stroke-linecap="butt"/><line x1="127.60" y1="37.53" x2="148.20" y2="37.53" stroke="#3f16d2" stroke-width="2.0" stroke-linecap="butt"/><line x1="148.20" y1="28.04" x2="148.20" y2="38.53" stroke="#3f16d2" stroke-width="2.0" stroke-linecap="butt"/><line x1="148.20" y1="20.12" x2="148.20" y2="30.04" stroke="#3f16d2" stroke-width="2.0" stroke-linecap="butt"/><line x1="148.20" y1="13.33" x2="148.20" y2="22.12" stroke="#3f16d2" stroke-width="2.0" stroke-linecap="butt"/><line x1="148.20" y1="8.80" x2="148.20" y2="15.33" stroke="#3f16d2" stroke-width="2.0" stroke-linecap="butt"/><line x1="148.20" y1="9.80" x2="148.50" y2="9.80" stroke="#3f16d2" stroke-width="2.0" stroke-linecap="butt"/><line x1="148.20" y1="13.33" x2="148.20" y2="19.85" stroke="#3f16d2" stroke-width="2.0" stroke-linecap="butt"/><line x1="148.20" y1="18.85" x2="148.50" y2="18.85" stroke="#3f16d2" stroke-width="2.0" stroke-linecap="butt"/><line x1="148.20" y1="28.04" x2="148.20" y2="37.96" stroke="#3f16d2" stroke-width="2.0" stroke-linecap="butt"/><line x1="148.20" y1="36.96" x2="148.50" y2="36.96" stroke="#3f16d2" stroke-width="2.0" stroke-linecap="butt"/><line x1="116.80" y1="74.44" x2="116.80" y2="84.36" stroke="#3f16d2" stroke-width="2.0" stroke-linecap="butt"/><line x1="116.80" y1="75.44" x2="141.90" y2="75.44" stroke="#3f16d2" stroke-width="2.0" stroke-linecap="butt"/><line x1="141.90" y1="67.65" x2="141.90" y2="76.44" stroke="#3f16d2" stroke-width="2.0" stroke-linecap="butt"/><line x1="141.90" y1="68.65" x2="143.20" y2="68.65" stroke="#3f16d2" stroke-width="2.0" stroke-linecap="butt"/><line x1="143.20" y1="63.12" x2="143.20" y2="69.65" stroke="#3f16d2" stroke-width="2.0" stroke-linecap="butt"/><line x1="143.20" y1="64.12" x2="148.50" y2="64.12" stroke="#3f16d2" stroke-width="2.0" stroke-linecap="butt"/><line x1="141.90" y1="74.44" x2="141.90" y2="83.23" stroke="#3f16d2" stroke-width="2.0" stroke-linecap="butt"/><line x1="141.90" y1="82.23" x2="148.20" y2="82.23" stroke="#3f16d2" stroke-width="2.0" stroke-linecap="butt"/><line x1="88.60" y1="95.38" x2="88.60" y2="128.93" stroke="#3f16d2" stroke-width="2.0" stroke-linecap="butt"/><line x1="88.60" y1="127.93" x2="122.50" y2="127.93" stroke="#3f16d2" stroke-width="2.0" stroke-linecap="butt"/><line x1="122.50" y1="118.30" x2="122.50" y2="128.93" stroke="#3f16d2" stroke-width="2.0" stroke-linecap="butt"/><line x1="122.50" y1="119.30" x2="145.60" y2="119.30" stroke="#3f16d2" stroke-width="2.0" stroke-linecap="butt"/><line x1="145.60" y1="103.87" x2="145.60" y2="120.30" stroke="#3f16d2" stroke-width="2.0" stroke-linecap="butt"/><line x1="145.60" y1="104.87" x2="146.60" y2="104.87" stroke="#3f16d2" stroke-width="2.0" stroke-linecap="butt"/><line x1="146.60" y1="103.87" x2="146.60" y2="110.39" stroke="#3f16d2" stroke-width="2.0" stroke-linecap="butt"/><line x1="146.60" y1="109.39" x2="148.50" y2="109.39" stroke="#3f16d2" stroke-width="2.0" stroke-linecap="butt"/><line x1="145.60" y1="118.30" x2="145.60" y2="123.97" stroke="#3f16d2" stroke-width="2.0" stroke-linecap="butt"/><line x1="145.60" y1="122.97" x2="146.60" y2="122.97" stroke="#3f16d2" stroke-width="2.0" stroke-linecap="butt"/><line x1="146.60" y1="117.45" x2="146.60" y2="123.97" stroke="#3f16d2" stroke-width="2.0" stroke-linecap="butt"/><line x1="146.60" y1="118.45" x2="148.20" y2="118.45" stroke="#3f16d2" stroke-width="2.0" stroke-linecap="butt"/><line x1="73.30" y1="133.86" x2="73.30" y2="174.34" stroke="#3f16d2" stroke-width="2.0" stroke-linecap="butt"/><line x1="73.30" y1="173.34" x2="131.20" y2="173.34" stroke="#3f16d2" stroke-width="2.0" stroke-linecap="butt"/><line x1="131.20" y1="163.85" x2="131.20" y2="174.34" stroke="#3f16d2" stroke-width="2.0" stroke-linecap="butt"/><line x1="131.20" y1="164.85" x2="145.90" y2="164.85" stroke="#3f16d2" stroke-width="2.0" stroke-linecap="butt"/><line x1="145.90" y1="155.93" x2="145.90" y2="165.85" stroke="#3f16d2" stroke-width="2.0" stroke-linecap="butt"/><line x1="145.90" y1="156.93" x2="146.60" y2="156.93" stroke="#3f16d2" stroke-width="2.0" stroke-linecap="butt"/><line x1="146.60" y1="149.14" x2="146.60" y2="157.93" stroke="#3f16d2" stroke-width="2.0" stroke-linecap="butt"/><line x1="146.60" y1="150.14" x2="147.40" y2="150.14" stroke="#3f16d2" stroke-width="2.0" stroke-linecap="butt"/><line x1="147.40" y1="144.61" x2="147.40" y2="151.14" stroke="#3f16d2" stroke-width="2.0" stroke-linecap="butt"/><line x1="147.40" y1="145.61" x2="148.20" y2="145.61" stroke="#3f16d2" stroke-width="2.0" stroke-linecap="butt"/><line x1="147.40" y1="149.14" x2="147.40" y2="155.66" stroke="#3f16d2" stroke-width="2.0" stroke-linecap="butt"/><line x1="147.40" y1="154.66" x2="148.50" y2="154.66" stroke="#3f16d2" stroke-width="2.0" stroke-linecap="butt"/><line x1="146.60" y1="155.93" x2="146.60" y2="164.72" stroke="#3f16d2" stroke-width="2.0" stroke-linecap="butt"/><line x1="146.60" y1="163.72" x2="149.15" y2="163.72" stroke="#3f16d2" stroke-width="2.0" stroke-linecap="butt"/><line x1="62.40" y1="190.51" x2="62.40" y2="249.17" stroke="#3f16d2" stroke-width="2.0" stroke-linecap="butt"/><line x1="62.40" y1="248.17" x2="73.80" y2="248.17" stroke="#3f16d2" stroke-width="2.0" stroke-linecap="butt"/><line x1="73.80" y1="223.03" x2="73.80" y2="249.17" stroke="#3f16d2" stroke-width="2.0" stroke-linecap="butt"/><line x1="73.80" y1="224.03" x2="131.70" y2="224.03" stroke="#3f16d2" stroke-width="2.0" stroke-linecap="butt"/><line x1="131.70" y1="210.90" x2="131.70" y2="225.03" stroke="#3f16d2" stroke-width="2.0" stroke-linecap="butt"/><line x1="131.70" y1="211.90" x2="144.30" y2="211.90" stroke="#3f16d2" stroke-width="2.0" stroke-linecap="butt"/><line x1="144.30" y1="203.46" x2="144.30" y2="212.90" stroke="#3f16d2" stroke-width="2.0" stroke-linecap="butt"/><line x1="144.30" y1="204.46" x2="146.30" y2="204.46" stroke="#3f16d2" stroke-width="2.0" stroke-linecap="butt"/><line x1="146.30" y1="189.88" x2="146.30" y2="205.46" stroke="#3f16d2" stroke-width="2.0" stroke-linecap="butt"/><line x1="146.30" y1="190.88" x2="146.80" y2="190.88" stroke="#3f16d2" stroke-width="2.0" stroke-linecap="butt"/><line x1="146.30" y1="198.93" x2="146.30" y2="205.46" stroke="#3f16d2" stroke-width="2.0" stroke-linecap="butt"/><line x1="146.30" y1="199.93" x2="146.40" y2="199.93" stroke="#3f16d2" stroke-width="2.0" stroke-linecap="butt"/><line x1="146.30" y1="203.46" x2="146.30" y2="209.99" stroke="#3f16d2" stroke-width="2.0" stroke-linecap="butt"/><line x1="146.30" y1="208.99" x2="146.80" y2="208.99" stroke="#3f16d2" stroke-width="2.0" stroke-linecap="butt"/><line x1="144.30" y1="210.90" x2="144.30" y2="228.10" stroke="#3f16d2" stroke-width="2.0" stroke-linecap="butt"/><line x1="144.30" y1="227.10" x2="148.20" y2="227.10" stroke="#3f16d2" stroke-width="2.0" stroke-linecap="butt"/><line x1="73.80" y1="247.17" x2="73.80" y2="273.31" stroke="#3f16d2" stroke-width="2.0" stroke-linecap="butt"/><line x1="73.80" y1="272.31" x2="134.60" y2="272.31" stroke="#3f16d2" stroke-width="2.0" stroke-linecap="butt"/><line x1="134.60" y1="262.20" x2="134.60" y2="273.31" stroke="#3f16d2" stroke-width="2.0" stroke-linecap="butt"/><line x1="134.60" y1="263.20" x2="144.60" y2="263.20" stroke="#3f16d2" stroke-width="2.0" stroke-linecap="butt"/><line x1="144.60" y1="248.73" x2="144.60" y2="264.20" stroke="#3f16d2" stroke-width="2.0" stroke-linecap="butt"/><line x1="144.60" y1="249.73" x2="145.90" y2="249.73" stroke="#3f16d2" stroke-width="2.0" stroke-linecap="butt"/><line x1="145.90" y1="248.73" x2="145.90" y2="255.26" stroke="#3f16d2" stroke-width="2.0" stroke-linecap="butt"/><line x1="145.90" y1="254.26" x2="147.10" y2="254.26" stroke="#3f16d2" stroke-width="2.0" stroke-linecap="butt"/><line x1="144.60" y1="262.20" x2="144.60" y2="268.84" stroke="#3f16d2" stroke-width="2.0" stroke-linecap="butt"/><line x1="144.60" y1="267.84" x2="145.90" y2="267.84" stroke="#3f16d2" stroke-width="2.0" stroke-linecap="butt"/><line x1="145.90" y1="262.31" x2="145.90" y2="268.84" stroke="#3f16d2" stroke-width="2.0" stroke-linecap="butt"/><line x1="145.90" y1="263.31" x2="148.50" y2="263.31" stroke="#3f16d2" stroke-width="2.0" stroke-linecap="butt"/><line x1="145.90" y1="266.84" x2="145.90" y2="273.37" stroke="#3f16d2" stroke-width="2.0" stroke-linecap="butt"/><line x1="145.90" y1="272.37" x2="148.20" y2="272.37" stroke="#3f16d2" stroke-width="2.0" stroke-linecap="butt"/><line x1="47.80" y1="262.56" x2="47.80" y2="336.60" stroke="#3f16d2" stroke-width="2.0" stroke-linecap="butt"/><line x1="47.80" y1="335.60" x2="128.00" y2="335.60" stroke="#3f16d2" stroke-width="2.0" stroke-linecap="butt"/><line x1="145.20" y1="289.47" x2="145.20" y2="298.26" stroke="#3f16d2" stroke-width="2.0" stroke-linecap="butt"/><line x1="145.20" y1="290.47" x2="148.20" y2="290.47" stroke="#3f16d2" stroke-width="2.0" stroke-linecap="butt"/><line x1="145.20" y1="296.26" x2="145.20" y2="305.06" stroke="#3f16d2" stroke-width="2.0" stroke-linecap="butt"/><line x1="145.20" y1="304.06" x2="146.50" y2="304.06" stroke="#3f16d2" stroke-width="2.0" stroke-linecap="butt"/><line x1="146.50" y1="298.53" x2="146.50" y2="305.06" stroke="#3f16d2" stroke-width="2.0" stroke-linecap="butt"/><line x1="146.50" y1="299.53" x2="148.50" y2="299.53" stroke="#3f16d2" stroke-width="2.0" stroke-linecap="butt"/><line x1="146.50" y1="303.06" x2="146.50" y2="309.58" stroke="#3f16d2" stroke-width="2.0" stroke-linecap="butt"/><line x1="146.50" y1="308.58" x2="148.20" y2="308.58" stroke="#3f16d2" stroke-width="2.0" stroke-linecap="butt"/><line x1="8.90" y1="424.97" x2="8.90" y2="589.38" stroke="#3f16d2" stroke-width="2.0" stroke-linecap="butt"/><line x1="8.90" y1="588.38" x2="69.90" y2="588.38" stroke="#3f16d2" stroke-width="2.0" stroke-linecap="butt"/><line x1="69.90" y1="522.67" x2="69.90" y2="589.38" stroke="#3f16d2" stroke-width="2.0" stroke-linecap="butt"/><line x1="69.90" y1="523.67" x2="129.70" y2="523.67" stroke="#3f16d2" stroke-width="2.0" stroke-linecap="butt"/><line x1="129.70" y1="478.94" x2="129.70" y2="524.67" stroke="#3f16d2" stroke-width="2.0" stroke-linecap="butt"/><line x1="129.70" y1="479.94" x2="134.60" y2="479.94" stroke="#3f16d2" stroke-width="2.0" stroke-linecap="butt"/><line x1="134.60" y1="451.10" x2="134.60" y2="480.94" stroke="#3f16d2" stroke-width="2.0" stroke-linecap="butt"/><line x1="134.60" y1="452.10" x2="141.20" y2="452.10" stroke="#3f16d2" stroke-width="2.0" stroke-linecap="butt"/><line x1="141.20" y1="416.50" x2="141.20" y2="453.10" stroke="#3f16d2" stroke-width="2.0" stroke-linecap="butt"/><line x1="141.20" y1="417.50" x2="147.80" y2="417.50" stroke="#3f16d2" stroke-width="2.0" stroke-linecap="butt"/><line x1="147.80" y1="357.38" x2="147.80" y2="418.50" stroke="#3f16d2" stroke-width="2.0" stroke-linecap="butt"/><line x1="147.80" y1="370.96" x2="147.80" y2="418.50" stroke="#3f16d2" stroke-width="2.0" stroke-linecap="butt"/><line x1="147.80" y1="371.96" x2="148.70" y2="371.96" stroke="#3f16d2" stroke-width="2.0" stroke-linecap="butt"/><line x1="147.80" y1="380.01" x2="147.80" y2="418.50" stroke="#3f16d2" stroke-width="2.0" stroke-linecap="butt"/><line x1="147.80" y1="381.01" x2="148.50" y2="381.01" stroke="#3f16d2" stroke-width="2.0" stroke-linecap="butt"/><line x1="147.80" y1="389.07" x2="147.80" y2="418.50" stroke="#3f16d2" stroke-width="2.0" stroke-linecap="butt"/><line x1="147.80" y1="390.07" x2="148.50" y2="390.07" stroke="#3f16d2" stroke-width="2.0" stroke-linecap="butt"/><line x1="147.80" y1="398.12" x2="147.80" y2="418.50" stroke="#3f16d2" stroke-width="2.0" stroke-linecap="butt"/><line x1="147.80" y1="399.12" x2="148.50" y2="399.12" stroke="#3f16d2" stroke-width="2.0" stroke-linecap="butt"/><line x1="147.80" y1="407.18" x2="147.80" y2="418.50" stroke="#3f16d2" stroke-width="2.0" stroke-linecap="butt"/><line x1="147.80" y1="408.18" x2="148.50" y2="408.18" stroke="#3f16d2" stroke-width="2.0" stroke-linecap="butt"/><line x1="147.80" y1="416.23" x2="147.80" y2="418.50" stroke="#3f16d2" stroke-width="2.0" stroke-linecap="butt"/><line x1="147.80" y1="417.23" x2="148.50" y2="417.23" stroke="#3f16d2" stroke-width="2.0" stroke-linecap="butt"/><line x1="147.80" y1="416.50" x2="147.80" y2="427.28" stroke="#3f16d2" stroke-width="2.0" stroke-linecap="butt"/><line x1="147.80" y1="426.28" x2="148.50" y2="426.28" stroke="#3f16d2" stroke-width="2.0" stroke-linecap="butt"/><line x1="147.80" y1="416.50" x2="147.80" y2="436.34" stroke="#3f16d2" stroke-width="2.0" stroke-linecap="butt"/><line x1="147.80" y1="435.34" x2="148.50" y2="435.34" stroke="#3f16d2" stroke-width="2.0" stroke-linecap="butt"/><line x1="147.80" y1="416.50" x2="147.80" y2="445.39" stroke="#3f16d2" stroke-width="2.0" stroke-linecap="butt"/><line x1="147.80" y1="444.39" x2="147.60" y2="444.39" stroke="#3f16d2" stroke-width="2.0" stroke-linecap="butt"/><line x1="141.20" y1="451.10" x2="141.20" y2="487.71" stroke="#3f16d2" stroke-width="2.0" stroke-linecap="butt"/><line x1="141.20" y1="486.71" x2="144.50" y2="486.71" stroke="#3f16d2" stroke-width="2.0" stroke-linecap="butt"/><line x1="144.50" y1="473.70" x2="144.50" y2="487.71" stroke="#3f16d2" stroke-width="2.0" stroke-linecap="butt"/><line x1="144.50" y1="474.70" x2="149.40" y2="474.70" stroke="#3f16d2" stroke-width="2.0" stroke-linecap="butt"/><line x1="149.40" y1="452.45" x2="149.40" y2="475.70" stroke="#3f16d2" stroke-width="2.0" stroke-linecap="butt"/><line x1="149.40" y1="453.45" x2="149.15" y2="453.45" stroke="#3f16d2" stroke-width="2.0" stroke-linecap="butt"/><line x1="149.40" y1="461.50" x2="149.40" y2="475.70" stroke="#3f16d2" stroke-width="2.0" stroke-linecap="butt"/><line x1="149.40" y1="462.50" x2="149.15" y2="462.50" stroke="#3f16d2" stroke-width="2.0" stroke-linecap="butt"/><line x1="149.40" y1="470.55" x2="149.40" y2="475.70" stroke="#3f16d2" stroke-width="2.0" stroke-linecap="butt"/><line x1="149.40" y1="471.55" x2="149.15" y2="471.55" stroke="#3f16d2" stroke-width="2.0" stroke-linecap="butt"/><line x1="149.40" y1="473.70" x2="149.40" y2="481.61" stroke="#3f16d2" stroke-width="2.0" stroke-linecap="butt"/><line x1="149.40" y1="480.61" x2="149.15" y2="480.61" stroke="#3f16d2" stroke-width="2.0" stroke-linecap="butt"/><line x1="129.70" y1="522.67" x2="129.70" y2="568.40" stroke="#3f16d2" stroke-width="2.0" stroke-linecap="butt"/><line x1="129.70" y1="567.40" x2="138.40" y2="567.40" stroke="#3f16d2" stroke-width="2.0" stroke-linecap="butt"/><line x1="138.40" y1="557.98" x2="138.40" y2="568.40" stroke="#3f16d2" stroke-width="2.0" stroke-linecap="butt"/><line x1="138.40" y1="558.98" x2="140.20" y2="558.98" stroke="#3f16d2" stroke-width="2.0" stroke-linecap="butt"/><line x1="142.00" y1="527.14" x2="142.00" y2="537.06" stroke="#3f16d2" stroke-width="2.0" stroke-linecap="butt"/><line x1="142.00" y1="528.14" x2="145.90" y2="528.14" stroke="#3f16d2" stroke-width="2.0" stroke-linecap="butt"/><line x1="145.90" y1="520.35" x2="145.90" y2="529.14" stroke="#3f16d2" stroke-width="2.0" stroke-linecap="butt"/><line x1="145.90" y1="521.35" x2="147.00" y2="521.35" stroke="#3f16d2" stroke-width="2.0" stroke-linecap="butt"/><line x1="138.40" y1="566.40" x2="138.40" y2="585.73" stroke="#3f16d2" stroke-width="2.0" stroke-linecap="butt"/><line x1="138.40" y1="584.73" x2="141.00" y2="584.73" stroke="#3f16d2" stroke-width="2.0" stroke-linecap="butt"/><line x1="69.90" y1="587.38" x2="69.90" y2="654.09" stroke="#3f16d2" stroke-width="2.0" stroke-linecap="butt"/><line x1="69.90" y1="653.09" x2="122.70" y2="653.09" stroke="#3f16d2" stroke-width="2.0" stroke-linecap="butt"/><line x1="122.70" y1="643.50" x2="122.70" y2="654.09" stroke="#3f16d2" stroke-width="2.0" stroke-linecap="butt"/><line x1="122.70" y1="644.50" x2="146.50" y2="644.50" stroke="#3f16d2" stroke-width="2.0" stroke-linecap="butt"/><line x1="148.90" y1="619.94" x2="148.90" y2="644.58" stroke="#3f16d2" stroke-width="2.0" stroke-linecap="butt"/><line x1="148.90" y1="643.58" x2="148.50" y2="643.58" stroke="#3f16d2" stroke-width="2.0" stroke-linecap="butt"/><line x1="148.20" y1="20.12" x2="148.20" y2="28.91" stroke="#9a2aa8" stroke-width="2.0" stroke-linecap="butt"/><line x1="148.20" y1="27.91" x2="148.50" y2="27.91" stroke="#9a2aa8" stroke-width="2.0" stroke-linecap="butt"/><line x1="148.20" y1="36.53" x2="148.20" y2="47.02" stroke="#6a2ab8" stroke-width="2.0" stroke-linecap="butt"/><line x1="148.20" y1="46.02" x2="148.50" y2="46.02" stroke="#6a2ab8" stroke-width="2.0" stroke-linecap="butt"/><line x1="127.60" y1="45.30" x2="127.60" y2="56.07" stroke="#6a2ab8" stroke-width="2.0" stroke-linecap="butt"/><line x1="127.60" y1="55.07" x2="136.65" y2="55.07" stroke="#6a2ab8" stroke-width="2.0" stroke-linecap="butt"/><line x1="102.90" y1="63.83" x2="102.90" y2="84.36" stroke="#4a1cc8" stroke-width="2.0" stroke-linecap="butt"/><line x1="102.90" y1="83.36" x2="116.80" y2="83.36" stroke="#4a1cc8" stroke-width="2.0" stroke-linecap="butt"/><line x1="143.20" y1="67.65" x2="143.20" y2="74.18" stroke="#6a2ab8" stroke-width="2.0" stroke-linecap="butt"/><line x1="143.20" y1="73.18" x2="148.20" y2="73.18" stroke="#6a2ab8" stroke-width="2.0" stroke-linecap="butt"/><line x1="116.80" y1="82.36" x2="116.80" y2="92.29" stroke="#6a2ab8" stroke-width="2.0" stroke-linecap="butt"/><line x1="116.80" y1="91.29" x2="136.65" y2="91.29" stroke="#6a2ab8" stroke-width="2.0" stroke-linecap="butt"/><line x1="146.60" y1="99.34" x2="146.60" y2="105.87" stroke="#6a2ab8" stroke-width="2.0" stroke-linecap="butt"/><line x1="146.60" y1="100.34" x2="147.10" y2="100.34" stroke="#6a2ab8" stroke-width="2.0" stroke-linecap="butt"/><line x1="146.60" y1="121.97" x2="146.60" y2="128.50" stroke="#6a2ab8" stroke-width="2.0" stroke-linecap="butt"/><line x1="146.60" y1="127.50" x2="148.50" y2="127.50" stroke="#6a2ab8" stroke-width="2.0" stroke-linecap="butt"/><line x1="122.50" y1="126.93" x2="122.50" y2="137.56" stroke="#6a2ab8" stroke-width="2.0" stroke-linecap="butt"/><line x1="122.50" y1="136.56" x2="136.65" y2="136.56" stroke="#6a2ab8" stroke-width="2.0" stroke-linecap="butt"/><line x1="145.90" y1="163.85" x2="145.90" y2="173.77" stroke="#6a2ab8" stroke-width="2.0" stroke-linecap="butt"/><line x1="145.90" y1="172.77" x2="148.50" y2="172.77" stroke="#6a2ab8" stroke-width="2.0" stroke-linecap="butt"/><line x1="131.20" y1="172.34" x2="131.20" y2="182.83" stroke="#6a2ab8" stroke-width="2.0" stroke-linecap="butt"/><line x1="131.20" y1="181.83" x2="136.65" y2="181.83" stroke="#6a2ab8" stroke-width="2.0" stroke-linecap="butt"/><line x1="146.30" y1="203.46" x2="146.30" y2="219.04" stroke="#6a2ab8" stroke-width="2.0" stroke-linecap="butt"/><line x1="146.30" y1="218.04" x2="146.80" y2="218.04" stroke="#6a2ab8" stroke-width="2.0" stroke-linecap="butt"/><line x1="131.70" y1="223.03" x2="131.70" y2="237.15" stroke="#6a2ab8" stroke-width="2.0" stroke-linecap="butt"/><line x1="131.70" y1="236.15" x2="136.65" y2="236.15" stroke="#6a2ab8" stroke-width="2.0" stroke-linecap="butt"/><line x1="145.90" y1="244.20" x2="145.90" y2="250.73" stroke="#6a2ab8" stroke-width="2.0" stroke-linecap="butt"/><line x1="145.90" y1="245.20" x2="146.80" y2="245.20" stroke="#6a2ab8" stroke-width="2.0" stroke-linecap="butt"/><line x1="134.60" y1="271.31" x2="134.60" y2="282.42" stroke="#6a2ab8" stroke-width="2.0" stroke-linecap="butt"/><line x1="134.60" y1="281.42" x2="136.30" y2="281.42" stroke="#6a2ab8" stroke-width="2.0" stroke-linecap="butt"/><line x1="128.00" y1="325.41" x2="128.00" y2="336.60" stroke="#4a1cc8" stroke-width="2.0" stroke-linecap="butt"/><line x1="128.00" y1="326.41" x2="134.10" y2="326.41" stroke="#4a1cc8" stroke-width="2.0" stroke-linecap="butt"/><line x1="134.10" y1="316.07" x2="134.10" y2="327.41" stroke="#6a2ab8" stroke-width="2.0" stroke-linecap="butt"/><line x1="134.10" y1="317.07" x2="138.25" y2="317.07" stroke="#6a2ab8" stroke-width="2.0" stroke-linecap="butt"/><line x1="138.25" y1="306.45" x2="138.25" y2="318.07" stroke="#6a2ab8" stroke-width="2.0" stroke-linecap="butt"/><line x1="138.25" y1="307.45" x2="141.70" y2="307.45" stroke="#6a2ab8" stroke-width="2.0" stroke-linecap="butt"/><line x1="141.70" y1="296.26" x2="141.70" y2="308.45" stroke="#6a2ab8" stroke-width="2.0" stroke-linecap="butt"/><line x1="141.70" y1="297.26" x2="145.20" y2="297.26" stroke="#6a2ab8" stroke-width="2.0" stroke-linecap="butt"/><line x1="141.70" y1="306.45" x2="141.70" y2="318.64" stroke="#6a2ab8" stroke-width="2.0" stroke-linecap="butt"/><line x1="141.70" y1="317.64" x2="147.80" y2="317.64" stroke="#6a2ab8" stroke-width="2.0" stroke-linecap="butt"/><line x1="138.25" y1="316.07" x2="138.25" y2="327.69" stroke="#6a2ab8" stroke-width="2.0" stroke-linecap="butt"/><line x1="138.25" y1="326.69" x2="148.50" y2="326.69" stroke="#6a2ab8" stroke-width="2.0" stroke-linecap="butt"/><line x1="134.10" y1="325.41" x2="134.10" y2="336.74" stroke="#6a2ab8" stroke-width="2.0" stroke-linecap="butt"/><line x1="134.10" y1="335.74" x2="146.40" y2="335.74" stroke="#6a2ab8" stroke-width="2.0" stroke-linecap="butt"/><line x1="128.00" y1="334.60" x2="128.00" y2="345.80" stroke="#4a1cc8" stroke-width="2.0" stroke-linecap="butt"/><line x1="128.00" y1="344.80" x2="136.20" y2="344.80" stroke="#4a1cc8" stroke-width="2.0" stroke-linecap="butt"/><line x1="147.80" y1="352.85" x2="147.80" y2="359.38" stroke="#6a2ab8" stroke-width="2.0" stroke-linecap="butt"/><line x1="147.80" y1="353.85" x2="149.80" y2="353.85" stroke="#6a2ab8" stroke-width="2.0" stroke-linecap="butt"/><line x1="147.80" y1="357.38" x2="147.80" y2="363.91" stroke="#d8a048" stroke-width="2.0" stroke-linecap="butt"/><line x1="147.80" y1="362.91" x2="149.15" y2="362.91" stroke="#d8a048" stroke-width="2.0" stroke-linecap="butt"/><line x1="147.60" y1="444.39" x2="148.50" y2="444.39" stroke="#6a2ab8" stroke-width="2.0" stroke-linecap="butt"/><line x1="149.40" y1="473.70" x2="149.40" y2="490.66" stroke="#6a2ab8" stroke-width="2.0" stroke-linecap="butt"/><line x1="149.40" y1="489.66" x2="148.50" y2="489.66" stroke="#6a2ab8" stroke-width="2.0" stroke-linecap="butt"/><line x1="144.50" y1="485.71" x2="144.50" y2="499.72" stroke="#6a2ab8" stroke-width="2.0" stroke-linecap="butt"/><line x1="144.50" y1="498.72" x2="146.80" y2="498.72" stroke="#6a2ab8" stroke-width="2.0" stroke-linecap="butt"/><line x1="134.60" y1="478.94" x2="134.60" y2="508.77" stroke="#6a2ab8" stroke-width="2.0" stroke-linecap="butt"/><line x1="134.60" y1="507.77" x2="140.40" y2="507.77" stroke="#6a2ab8" stroke-width="2.0" stroke-linecap="butt"/><line x1="140.20" y1="545.82" x2="140.20" y2="559.98" stroke="#6a2ab8" stroke-width="2.0" stroke-linecap="butt"/><line x1="140.20" y1="546.82" x2="141.20" y2="546.82" stroke="#6a2ab8" stroke-width="2.0" stroke-linecap="butt"/><line x1="141.20" y1="535.06" x2="141.20" y2="547.82" stroke="#6a2ab8" stroke-width="2.0" stroke-linecap="butt"/><line x1="141.20" y1="536.06" x2="142.00" y2="536.06" stroke="#6a2ab8" stroke-width="2.0" stroke-linecap="butt"/><line x1="147.00" y1="515.82" x2="147.00" y2="522.35" stroke="#6a2ab8" stroke-width="2.0" stroke-linecap="butt"/><line x1="147.00" y1="516.82" x2="146.80" y2="516.82" stroke="#6a2ab8" stroke-width="2.0" stroke-linecap="butt"/><line x1="147.00" y1="520.35" x2="147.00" y2="526.88" stroke="#6a2ab8" stroke-width="2.0" stroke-linecap="butt"/><line x1="147.00" y1="525.88" x2="146.80" y2="525.88" stroke="#6a2ab8" stroke-width="2.0" stroke-linecap="butt"/><line x1="145.90" y1="527.14" x2="145.90" y2="535.93" stroke="#6a2ab8" stroke-width="2.0" stroke-linecap="butt"/><line x1="145.90" y1="534.93" x2="147.80" y2="534.93" stroke="#6a2ab8" stroke-width="2.0" stroke-linecap="butt"/><line x1="142.00" y1="535.06" x2="142.00" y2="544.99" stroke="#6a2ab8" stroke-width="2.0" stroke-linecap="butt"/><line x1="142.00" y1="543.99" x2="146.30" y2="543.99" stroke="#6a2ab8" stroke-width="2.0" stroke-linecap="butt"/><line x1="141.20" y1="545.82" x2="141.20" y2="558.57" stroke="#6a2ab8" stroke-width="2.0" stroke-linecap="butt"/><line x1="141.20" y1="557.57" x2="143.90" y2="557.57" stroke="#6a2ab8" stroke-width="2.0" stroke-linecap="butt"/><line x1="143.90" y1="552.04" x2="143.90" y2="558.57" stroke="#9a2aa8" stroke-width="2.0" stroke-linecap="butt"/><line x1="143.90" y1="553.04" x2="149.60" y2="553.04" stroke="#9a2aa8" stroke-width="2.0" stroke-linecap="butt"/><line x1="143.90" y1="556.57" x2="143.90" y2="563.09" stroke="#6a2ab8" stroke-width="2.0" stroke-linecap="butt"/><line x1="143.90" y1="562.09" x2="146.00" y2="562.09" stroke="#6a2ab8" stroke-width="2.0" stroke-linecap="butt"/><line x1="140.20" y1="557.98" x2="140.20" y2="572.15" stroke="#6a2ab8" stroke-width="2.0" stroke-linecap="butt"/><line x1="140.20" y1="571.15" x2="144.70" y2="571.15" stroke="#6a2ab8" stroke-width="2.0" stroke-linecap="butt"/><line x1="141.00" y1="579.20" x2="141.00" y2="585.73" stroke="#6a2ab8" stroke-width="2.0" stroke-linecap="butt"/><line x1="141.00" y1="580.20" x2="142.00" y2="580.20" stroke="#6a2ab8" stroke-width="2.0" stroke-linecap="butt"/><line x1="141.00" y1="583.73" x2="141.00" y2="590.26" stroke="#6a2ab8" stroke-width="2.0" stroke-linecap="butt"/><line x1="141.00" y1="589.26" x2="142.30" y2="589.26" stroke="#6a2ab8" stroke-width="2.0" stroke-linecap="butt"/><line x1="146.50" y1="619.94" x2="146.50" y2="645.50" stroke="#4a1cc8" stroke-width="2.0" stroke-linecap="butt"/><line x1="146.50" y1="620.94" x2="148.90" y2="620.94" stroke="#4a1cc8" stroke-width="2.0" stroke-linecap="butt"/><line x1="148.90" y1="597.31" x2="148.90" y2="621.94" stroke="#4a1cc8" stroke-width="2.0" stroke-linecap="butt"/><line x1="148.90" y1="598.31" x2="148.50" y2="598.31" stroke="#4a1cc8" stroke-width="2.0" stroke-linecap="butt"/><line x1="148.90" y1="606.36" x2="148.90" y2="621.94" stroke="#4a1cc8" stroke-width="2.0" stroke-linecap="butt"/><line x1="148.90" y1="607.36" x2="149.10" y2="607.36" stroke="#4a1cc8" stroke-width="2.0" stroke-linecap="butt"/><line x1="148.90" y1="615.42" x2="148.90" y2="621.94" stroke="#4a1cc8" stroke-width="2.0" stroke-linecap="butt"/><line x1="148.90" y1="616.42" x2="148.50" y2="616.42" stroke="#4a1cc8" stroke-width="2.0" stroke-linecap="butt"/><line x1="148.90" y1="619.94" x2="148.90" y2="626.47" stroke="#6a2ab8" stroke-width="2.0" stroke-linecap="butt"/><line x1="148.90" y1="625.47" x2="148.20" y2="625.47" stroke="#6a2ab8" stroke-width="2.0" stroke-linecap="butt"/><line x1="148.90" y1="619.94" x2="148.90" y2="635.53" stroke="#4a1cc8" stroke-width="2.0" stroke-linecap="butt"/><line x1="148.90" y1="634.53" x2="148.50" y2="634.53" stroke="#4a1cc8" stroke-width="2.0" stroke-linecap="butt"/><line x1="146.50" y1="643.50" x2="146.50" y2="653.63" stroke="#6a2ab8" stroke-width="2.0" stroke-linecap="butt"/><line x1="146.50" y1="652.63" x2="148.50" y2="652.63" stroke="#6a2ab8" stroke-width="2.0" stroke-linecap="butt"/><line x1="122.70" y1="652.09" x2="122.70" y2="662.69" stroke="#6a2ab8" stroke-width="2.0" stroke-linecap="butt"/><line x1="122.70" y1="661.69" x2="145.10" y2="661.69" stroke="#6a2ab8" stroke-width="2.0" stroke-linecap="butt"/><line x1="148.00" y1="357.40" x2="148.00" y2="367.50" stroke="#d8a850" stroke-width="2.3" stroke-linecap="butt"/><line x1="148.60" y1="416.50" x2="148.60" y2="436.50" stroke="#4a1ee0" stroke-width="2.0" stroke-linecap="butt"/></g>
<g font-size="7.25" stroke-width="0.2" class="lab"><text x="149.51" y="12.35" fill="#1e1e1e" stroke="#1e1e1e">KC893485_CVA8_NLD_2011</text><text x="150.09" y="21.40" fill="#1e1e1e" stroke="#1e1e1e">AB848735_CVA8_JPN_2013</text><text x="149.51" y="30.46" fill="#1e1e1e" stroke="#1e1e1e">MK307053_CVA8_CHN_2016</text><text x="149.51" y="39.51" fill="#1e1e1e" stroke="#1e1e1e">MK111161_CVA8_CYP_2012</text><text x="149.43" y="48.57" fill="#a8503a" stroke="#a8503a">IAL_CVA8_036_BRA_2012</text><text x="138.24" y="57.62" fill="#2a2ac8" stroke="#2a2ac8">AY421766_CVA8_strain_Donovan_USA_1949</text><text x="149.51" y="66.67" fill="#1e1e1e" stroke="#1e1e1e">KU841452_CVA3_RUS_2011</text><text x="149.13" y="75.73" fill="#a8503a" stroke="#a8503a">IAL_CVA3_094_BRA_2005</text><text x="149.21" y="84.78" fill="#1e1e1e" stroke="#1e1e1e">KC879496_CVA3_KGZ_2006</text><text x="138.24" y="93.84" fill="#2a2ac8" stroke="#2a2ac8">AY421761_CVA3_strain_Olson_USA_1948</text><text x="148.03" y="102.89" fill="#a8503a" stroke="#a8503a">IAL_CVA10_090_BRA_2006</text><text x="149.51" y="111.94" fill="#1e1e1e" stroke="#1e1e1e">KY866439_CVA10_NLD_2014</text><text x="149.21" y="121.00" fill="#1e1e1e" stroke="#1e1e1e">MT491210_CVA10_BRA_PA_2011</text><text x="149.51" y="130.05" fill="#1e1e1e" stroke="#1e1e1e">KC893470_CVA10_NLD_2008</text><text x="138.24" y="139.11" fill="#2a2ac8" stroke="#2a2ac8">AY421767_CVA10_strain_Kowalik_USA_1950</text><text x="149.21" y="148.16" fill="#1e1e1e" stroke="#1e1e1e">MT491212_CVA5_BRA_PA_2011</text><text x="149.51" y="157.21" fill="#1e1e1e" stroke="#1e1e1e">MT491211_CVA5_BRA_PA_2010</text><text x="150.16" y="166.27" fill="#1e1e1e" stroke="#1e1e1e">KP006021_CVA5_CHN_2013</text><text x="149.43" y="175.32" fill="#a8503a" stroke="#a8503a">IAL_CVA5_81_BRA_2009</text><text x="138.24" y="184.38" fill="#2a2ac8" stroke="#2a2ac8">AY421763_CVA5_ strain Swartz_USA_1950</text><text x="147.81" y="193.43" fill="#1e1e1e" stroke="#1e1e1e">LC126145_CVA6_JAPAN_2006</text><text x="147.99" y="202.48" fill="#1e1e1e" stroke="#1e1e1e">AB779614_CVA6_JAPAN_1999</text><text x="148.04" y="211.54" fill="#1e1e1e" stroke="#1e1e1e">GU248448_CVA6_SWE_2005</text><text x="147.73" y="220.59" fill="#a8503a" stroke="#a8503a">IAL_29_BRA_2002</text><text x="149.21" y="229.65" fill="#1e1e1e" stroke="#1e1e1e">MT491213_CVA6_BRA_2010</text><text x="138.24" y="238.70" fill="#2a2ac8" stroke="#2a2ac8">AY421764_CVA6_Gdula_USA_1949</text><text x="147.73" y="247.75" fill="#a8503a" stroke="#a8503a">IAL_CVA4_07_BRA_2003</text><text x="148.58" y="256.81" fill="#1e1e1e" stroke="#1e1e1e">JN034206_CVA4_GER_2004</text><text x="149.51" y="265.86" fill="#1e1e1e" stroke="#1e1e1e">KT877425_CVA4_ITA_2014</text><text x="149.68" y="274.92" fill="#1e1e1e" stroke="#1e1e1e">JX009125_CVA4_DNK_2009</text><text x="137.89" y="283.97" fill="#2a2ac8" stroke="#2a2ac8">AY421762_CVA4_strain_High_Point_USA_1948</text><text x="149.79" y="293.02" fill="#1e1e1e" stroke="#1e1e1e">AB794105_CVA2_CHN_2011</text><text x="149.51" y="302.08" fill="#1e1e1e" stroke="#1e1e1e">KM816568_CVA2_TWA_2011</text><text x="149.68" y="311.13" fill="#1e1e1e" stroke="#1e1e1e">JN168999_CVA2_CHN_2009</text><text x="148.81" y="320.19" fill="#1e1e1e" stroke="#1e1e1e">MT661875_CVA2_UGA_2006</text><text x="149.51" y="329.24" fill="#1e1e1e" stroke="#1e1e1e">KX021227_CVA2_THA_2015</text><text x="147.33" y="338.29" fill="#a8503a" stroke="#a8503a">IAL_CVA2_086_BRA_2001</text><text x="137.21" y="347.35" fill="#2a2ac8" stroke="#2a2ac8">NC_038306_CVA2_strain_Fleetwood_USA_1947</text><text x="150.81" y="356.40" fill="#1e1e1e" stroke="#1e1e1e">HG934276_EV_A71_FRA_2013</text><text x="150.16" y="365.46" fill="#1e1e1e" stroke="#1e1e1e">KX372324_EV_A71_THA_2013</text><text x="149.71" y="374.51" fill="#1e1e1e" stroke="#1e1e1e">HG934258_EV_A71_DEU_2010</text><text x="149.51" y="383.56" fill="#1e1e1e" stroke="#1e1e1e">KJ645799_EV_A71_RUS_2012</text><text x="149.51" y="392.62" fill="#1e1e1e" stroke="#1e1e1e">KF306101_EV_A71_TWN_2012</text><text x="149.51" y="401.67" fill="#1e1e1e" stroke="#1e1e1e">KU645338_EV_A71_IRL_2011</text><text x="149.51" y="410.73" fill="#1e1e1e" stroke="#1e1e1e">HQ676183.1_EV_A71_UK_2010</text><text x="149.51" y="419.78" fill="#1e1e1e" stroke="#1e1e1e">MW196709_EV_A71_ARG_2017</text><text x="149.43" y="428.83" fill="#a8503a" stroke="#a8503a">IAL_053_BRA_2015</text><text x="149.43" y="437.89" fill="#a8503a" stroke="#a8503a">IAL_033_BRA_2015</text><text x="149.43" y="446.94" fill="#a8503a" stroke="#a8503a">IAL_036_BRA_2013</text><text x="150.16" y="456.00" fill="#1e1e1e" stroke="#1e1e1e">MH536836_EV_A71_HUN_2017</text><text x="150.16" y="465.05" fill="#1e1e1e" stroke="#1e1e1e">MH084321_EV_A71_UK_2015</text><text x="150.16" y="474.10" fill="#1e1e1e" stroke="#1e1e1e">MH256664_EV_A71_CHE_2016</text><text x="150.16" y="483.16" fill="#1e1e1e" stroke="#1e1e1e">MG604327_EV_A71_GRC_2016</text><text x="149.43" y="492.21" fill="#a8503a" stroke="#a8503a">IAL_041_BRA_2019</text><text x="147.81" y="501.27" fill="#1e1e1e" stroke="#1e1e1e">KJ407269_EV_A71_PER_2006</text><text x="141.41" y="510.32" fill="#2a2ac8" stroke="#2a2ac8">BrCr-CA-70_U22521_1970</text><text x="147.73" y="519.37" fill="#a8503a" stroke="#a8503a">IAL_120_BRA_2006</text><text x="147.73" y="528.43" fill="#a8503a" stroke="#a8503a">IAL_069_BRA_2005</text><text x="148.73" y="537.48" fill="#a8503a" stroke="#a8503a">IAL_034_BRA_2008</text><text x="147.89" y="546.54" fill="#1e1e1e" stroke="#1e1e1e">AY278249_EV_A71_BRA/PA_1999</text><text x="150.61" y="555.59" fill="#1e1e1e" stroke="#1e1e1e">KY041858_EV_A71_IDN_2016</text><text x="147.01" y="564.64" fill="#1e1e1e" stroke="#1e1e1e">LC375765_EV_A71_JPN_1997</text><text x="146.29" y="573.70" fill="#1e1e1e" stroke="#1e1e1e">AF135899_EV_A71_COL_1994</text><text x="143.59" y="582.75" fill="#1e1e1e" stroke="#1e1e1e">AB524118_EV_A71_NLD_1973</text><text x="143.89" y="591.81" fill="#1e1e1e" stroke="#1e1e1e">AB524117_EV-A71_NLD_1976</text><text x="149.51" y="600.86" fill="#1e1e1e" stroke="#1e1e1e">MH598966_CVA16_BRA_PR_2016</text><text x="150.11" y="609.91" fill="#1e1e1e" stroke="#1e1e1e">MT822165_CVA16_MOZ_2016</text><text x="149.51" y="618.97" fill="#1e1e1e" stroke="#1e1e1e">MH598953_CVA16_BRA_RJ_2011</text><text x="149.13" y="628.02" fill="#a8503a" stroke="#a8503a">IAL_059_BRA_2013</text><text x="149.51" y="637.08" fill="#1e1e1e" stroke="#1e1e1e">MH598941_CVA16_BRA_AP_2009</text><text x="149.51" y="646.13" fill="#1e1e1e" stroke="#1e1e1e">MF093660_CVA16_URY_2011</text><text x="149.51" y="655.18" fill="#1e1e1e" stroke="#1e1e1e">LT577805_CVA16_FRA_2014</text><text x="146.14" y="664.24" fill="#2a2ac8" stroke="#2a2ac8">U05876_CVA16_FIN_1994</text></g>
<g><line x1="308.00" y1="9.80" x2="308.00" y2="55.07" stroke="#1e1eba" stroke-width="1.3" stroke-linecap="butt"/><text x="309.50" y="35.73" fill="#1e1eba" stroke="#1e1eba" stroke-width="0.15" font-size="8.6">CVA8</text><line x1="308.00" y1="64.12" x2="308.00" y2="91.29" stroke="#1e1eba" stroke-width="1.3" stroke-linecap="butt"/><text x="309.50" y="81.00" fill="#1e1eba" stroke="#1e1eba" stroke-width="0.15" font-size="8.6">CVA3</text><line x1="308.00" y1="100.34" x2="308.00" y2="136.56" stroke="#1e1eba" stroke-width="1.3" stroke-linecap="butt"/><text x="309.50" y="121.75" fill="#1e1eba" stroke="#1e1eba" stroke-width="0.15" font-size="8.6">CVA10</text><line x1="308.00" y1="145.61" x2="308.00" y2="181.83" stroke="#1e1eba" stroke-width="1.3" stroke-linecap="butt"/><text x="309.50" y="167.02" fill="#1e1eba" stroke="#1e1eba" stroke-width="0.15" font-size="8.6">CVA5</text><line x1="308.00" y1="190.88" x2="308.00" y2="236.15" stroke="#1e1eba" stroke-width="1.3" stroke-linecap="butt"/><text x="309.50" y="216.82" fill="#1e1eba" stroke="#1e1eba" stroke-width="0.15" font-size="8.6">CVA6</text><line x1="308.00" y1="245.20" x2="308.00" y2="281.42" stroke="#1e1eba" stroke-width="1.3" stroke-linecap="butt"/><text x="309.50" y="266.61" fill="#1e1eba" stroke="#1e1eba" stroke-width="0.15" font-size="8.6">CVA4</text><line x1="308.00" y1="290.47" x2="308.00" y2="344.80" stroke="#1e1eba" stroke-width="1.3" stroke-linecap="butt"/><text x="309.50" y="320.94" fill="#1e1eba" stroke="#1e1eba" stroke-width="0.15" font-size="8.6">CVA2</text><line x1="308.00" y1="353.85" x2="308.00" y2="589.26" stroke="#1e1eba" stroke-width="1.3" stroke-linecap="butt"/><text x="309.50" y="474.85" fill="#1e1eba" stroke="#1e1eba" stroke-width="0.15" font-size="8.6">EV-A71</text><line x1="308.00" y1="598.31" x2="308.00" y2="661.69" stroke="#1e1eba" stroke-width="1.3" stroke-linecap="butt"/><text x="309.50" y="633.30" fill="#1e1eba" stroke="#1e1eba" stroke-width="0.15" font-size="8.6">CVA16</text><line x1="270.20" y1="353.85" x2="270.20" y2="444.39" stroke="#1e1eba" stroke-width="1.3" stroke-linecap="butt"/><text x="271.70" y="402.42" fill="#1e1eba" stroke="#1e1eba" stroke-width="0.15" font-size="8.6">C2</text><line x1="270.20" y1="453.45" x2="270.20" y2="498.72" stroke="#1e1eba" stroke-width="1.3" stroke-linecap="butt"/><text x="271.70" y="479.38" fill="#1e1eba" stroke="#1e1eba" stroke-width="0.15" font-size="8.6">C1</text><line x1="270.20" y1="516.82" x2="270.20" y2="589.26" stroke="#1e1eba" stroke-width="1.3" stroke-linecap="butt"/><text x="271.70" y="556.34" fill="#1e1eba" stroke="#1e1eba" stroke-width="0.15" font-size="8.6">B</text></g>
<g><text x="494.5" y="236.2" font-size="10.8" fill="#1a1a1a">seq</text><rect x="495.4" y="243.00" width="16.4" height="16.4" fill="#b0542a"/><text x="517.6" y="254.80" font-size="8.8" fill="#222">a</text><rect x="495.4" y="261.20" width="16.4" height="16.4" fill="#a8c8e2"/><text x="517.6" y="273.00" font-size="8.8" fill="#222">c</text><rect x="495.4" y="279.40" width="16.4" height="16.4" fill="#ee8e48"/><text x="517.6" y="291.20" font-size="8.8" fill="#222">g</text><rect x="495.4" y="297.60" width="16.4" height="16.4" fill="#b89c7a"/><text x="517.6" y="309.40" font-size="8.8" fill="#222">t</text><text x="494.6" y="347.9" font-size="10.8" fill="#1a1a1a">rate</text><rect x="495.0" y="354.2" width="17.3" height="90.4" fill="url(#rg)"/><rect x="495.0" y="354.2" width="17.3" height="5.3" fill="#e08c36"/><line x1="495.0" y1="359.5" x2="498.5" y2="359.5" stroke="#fff" stroke-width="0.9" stroke-opacity="0.7"/><line x1="508.8" y1="359.5" x2="512.3" y2="359.5" stroke="#fff" stroke-width="0.9" stroke-opacity="0.7"/><text x="518.0" y="362.10" font-size="8.8" fill="#222">0.0026</text><line x1="495.0" y1="385.5" x2="498.5" y2="385.5" stroke="#fff" stroke-width="0.9" stroke-opacity="0.7"/><line x1="508.8" y1="385.5" x2="512.3" y2="385.5" stroke="#fff" stroke-width="0.9" stroke-opacity="0.7"/><text x="518.0" y="388.10" font-size="8.8" fill="#222">0.0024</text><line x1="495.0" y1="411.5" x2="498.5" y2="411.5" stroke="#fff" stroke-width="0.9" stroke-opacity="0.7"/><line x1="508.8" y1="411.5" x2="512.3" y2="411.5" stroke="#fff" stroke-width="0.9" stroke-opacity="0.7"/><text x="518.0" y="414.10" font-size="8.8" fill="#222">0.0022</text><line x1="495.0" y1="437.5" x2="498.5" y2="437.5" stroke="#fff" stroke-width="0.9" stroke-opacity="0.7"/><line x1="508.8" y1="437.5" x2="512.3" y2="437.5" stroke="#fff" stroke-width="0.9" stroke-opacity="0.7"/><text x="518.0" y="440.10" font-size="8.8" fill="#222">0.0020</text></g>
</svg>
</body></html>
